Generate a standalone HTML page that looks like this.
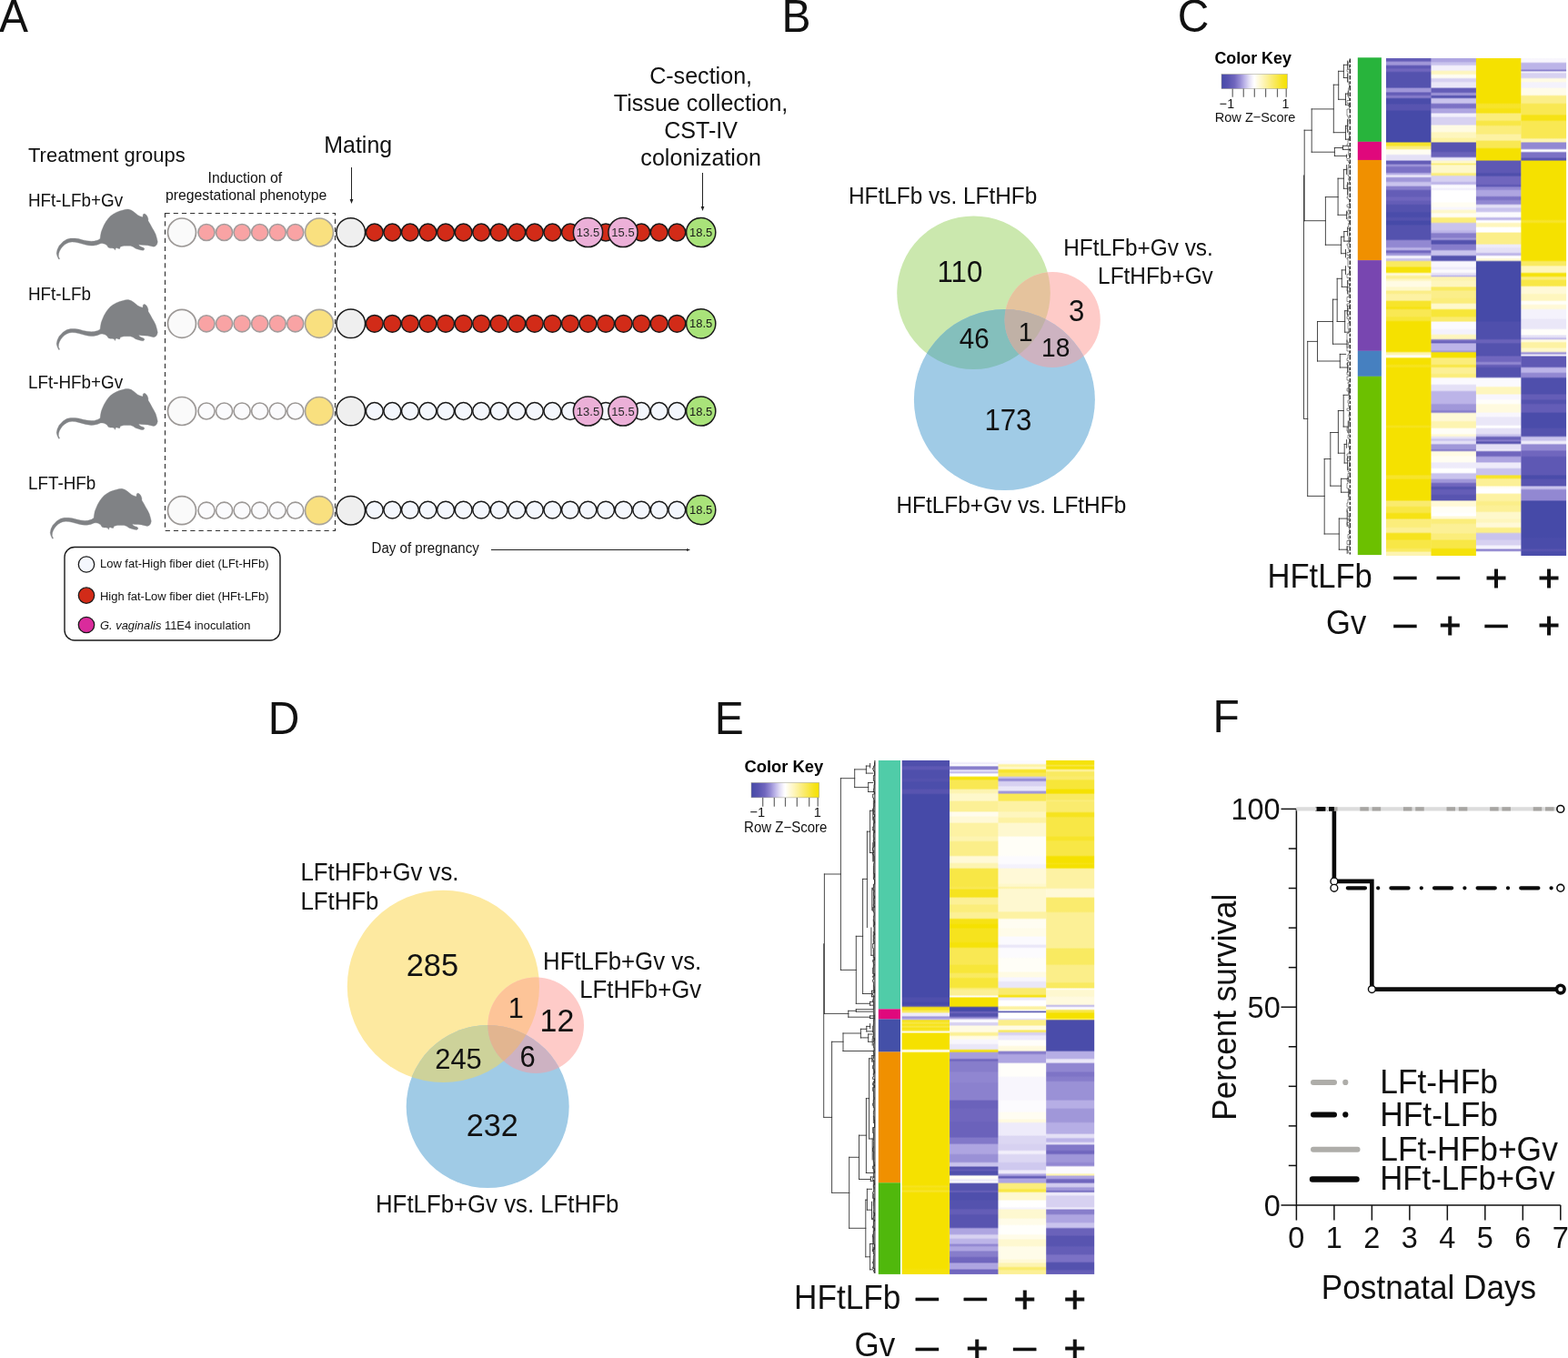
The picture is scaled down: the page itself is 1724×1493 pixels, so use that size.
<!DOCTYPE html>
<html lang="en"><head><meta charset="utf-8"><title>Figure</title>
<style>
html,body{margin:0;padding:0;background:#fff;}
body{width:1724px;height:1493px;overflow:hidden;}
svg{display:block;font-family:"Liberation Sans", sans-serif;}
</style></head><body>
<svg width="1724" height="1493" viewBox="0 0 1724 1493">
<rect width="1724" height="1493" fill="#fff"/>
<text transform="translate(-0.9 35) scale(1 1.035)" font-size="48.0" fill="#111">A</text>
<text transform="translate(31 178) scale(1 1.045)" font-size="22.0" fill="#111">Treatment groups</text>
<text transform="translate(393.7 168) scale(1 1.045)" font-size="24.95" text-anchor="middle" fill="#111">Mating</text>
<text transform="translate(770.6 92.3) scale(1 1.045)" font-size="25.1" text-anchor="middle" fill="#111">C-section,</text>
<text transform="translate(770.6 122.3) scale(1 1.045)" font-size="25.1" text-anchor="middle" fill="#111">Tissue collection,</text>
<text transform="translate(770.6 152.3) scale(1 1.045)" font-size="25.1" text-anchor="middle" fill="#111">CST-IV</text>
<text transform="translate(770.6 182.3) scale(1 1.045)" font-size="25.1" text-anchor="middle" fill="#111">colonization</text>
<text transform="translate(269.3 201) scale(1 1.045)" font-size="15.8" text-anchor="middle" fill="#111">Induction of</text>
<text transform="translate(270.6 220) scale(1 1.045)" font-size="15.8" text-anchor="middle" fill="#111">pregestational phenotype</text>
<path d="M386.5,184 V221" stroke="#222" stroke-width="1" fill="none"/><path d="M384.6,219 L386.5,224 L388.4,219Z" fill="#222"/>
<path d="M772.5,190 V229" stroke="#222" stroke-width="1" fill="none"/><path d="M770.6,227 L772.5,232 L774.4,227Z" fill="#222"/>
<rect x="181.5" y="234.5" width="187" height="349" fill="none" stroke="#333" stroke-width="1.2" stroke-dasharray="5.2,4"/>
<text transform="translate(31 227) scale(1 1.045)" font-size="18.85" fill="#111">HFt-LFb+Gv</text>
<text transform="translate(31 330) scale(1 1.045)" font-size="18.85" fill="#111">HFt-LFb</text>
<text transform="translate(31 427) scale(1 1.045)" font-size="18.85" fill="#111">LFt-HFb+Gv</text>
<text transform="translate(31 538) scale(1 1.045)" font-size="18.85" fill="#111">LFT-HFb</text>
<path d="M64.6,285.0 L63.0,281.7 L62.2,278.5 L63.0,274.4 L65.0,270.3 L69.5,265.5 L73.6,263.0 L77.6,262.1 L82.5,262.1 L86.5,262.6 L91.4,263.9 L95.5,264.7 L100.3,265.2 L103.6,265.1 L107.7,263.9 L110.1,262.4 L110.5,259.0 L111.3,254.9 L112.5,251.7 L114.3,247.6 L116.6,243.6 L119.0,240.3 L121.5,237.5 L124.7,235.3 L128.0,233.4 L131.6,232.0 L135.3,231.0 L138.1,230.2 L141.0,230.1 L144.2,231.0 L146.6,232.6 L149.1,234.6 L151.5,236.6 L153.9,237.7 L157.0,238.8 L157.2,236.2 L158.0,235.1 L159.5,235.3 L161.1,236.6 L162.2,238.5 L162.9,240.7 L162.9,242.7 L165.3,246.8 L167.3,250.5 L169.4,254.1 L171.2,257.8 L172.5,262.2 L173.3,265.9 L172.5,268.7 L171.0,270.5 L169.0,271.2 L165.7,270.5 L162.5,269.7 L158.8,269.4 L154.8,269.2 L152.5,268.7 L153.5,270.5 L155.6,271.6 L158.0,272.4 L159.0,273.8 L157.6,275.2 L155.2,275.1 L152.2,274.2 L149.1,273.2 L146.2,271.3 L143.4,270.3 L139.7,270.2 L136.1,270.3 L132.4,271.2 L131.6,273.4 L130.0,273.2 L128.4,272.6 L127.1,272.9 L126.5,275.1 L125.4,273.2 L123.5,272.8 L121.1,272.8 L119.0,272.0 L117.8,269.9 L115.9,268.6 L114.2,267.9 L112.1,267.6 L110.5,267.8 L106.8,269.2 L102.8,270.0 L100.3,270.1 L97.1,269.7 L93.9,269.1 L90.2,268.1 L86.5,267.1 L82.9,266.3 L79.2,266.0 L76.0,266.5 L73.6,267.5 L71.0,269.1 L68.7,271.2 L66.9,273.6 L65.4,276.2 L64.5,278.9 L64.3,281.7 L65.6,284.7Z" fill="#808285" stroke="#808285" stroke-width="0.35" stroke-linejoin="round"/>
<path d="M64.6,384.5 L63.0,381.2 L62.2,378.0 L63.0,373.9 L65.0,369.8 L69.5,365.0 L73.6,362.5 L77.6,361.6 L82.5,361.6 L86.5,362.1 L91.4,363.4 L95.5,364.2 L100.3,364.7 L103.6,364.6 L107.7,363.4 L110.1,361.9 L110.5,358.5 L111.3,354.4 L112.5,351.2 L114.3,347.1 L116.6,343.1 L119.0,339.8 L121.5,337.0 L124.7,334.8 L128.0,332.9 L131.6,331.5 L135.3,330.5 L138.1,329.7 L141.0,329.6 L144.2,330.5 L146.6,332.1 L149.1,334.1 L151.5,336.1 L153.9,337.2 L157.0,338.3 L157.2,335.7 L158.0,334.6 L159.5,334.8 L161.1,336.1 L162.2,338.0 L162.9,340.2 L162.9,342.2 L165.3,346.3 L167.3,350.0 L169.4,353.6 L171.2,357.3 L172.5,361.7 L173.3,365.4 L172.5,368.2 L171.0,370.0 L169.0,370.7 L165.7,370.0 L162.5,369.2 L158.8,368.9 L154.8,368.7 L152.5,368.2 L153.5,370.0 L155.6,371.1 L158.0,371.9 L159.0,373.3 L157.6,374.7 L155.2,374.6 L152.2,373.7 L149.1,372.7 L146.2,370.8 L143.4,369.8 L139.7,369.7 L136.1,369.8 L132.4,370.7 L131.6,372.9 L130.0,372.7 L128.4,372.1 L127.1,372.4 L126.5,374.6 L125.4,372.7 L123.5,372.3 L121.1,372.3 L119.0,371.5 L117.8,369.4 L115.9,368.1 L114.2,367.4 L112.1,367.1 L110.5,367.3 L106.8,368.7 L102.8,369.5 L100.3,369.6 L97.1,369.2 L93.9,368.6 L90.2,367.6 L86.5,366.6 L82.9,365.8 L79.2,365.5 L76.0,366.0 L73.6,367.0 L71.0,368.6 L68.7,370.7 L66.9,373.1 L65.4,375.7 L64.5,378.4 L64.3,381.2 L65.6,384.2Z" fill="#808285" stroke="#808285" stroke-width="0.35" stroke-linejoin="round"/>
<path d="M64.6,482.3 L63.0,479.0 L62.2,475.8 L63.0,471.7 L65.0,467.6 L69.5,462.8 L73.6,460.3 L77.6,459.4 L82.5,459.4 L86.5,459.9 L91.4,461.2 L95.5,462.0 L100.3,462.5 L103.6,462.4 L107.7,461.2 L110.1,459.7 L110.5,456.3 L111.3,452.2 L112.5,449.0 L114.3,444.9 L116.6,440.9 L119.0,437.6 L121.5,434.8 L124.7,432.6 L128.0,430.7 L131.6,429.3 L135.3,428.3 L138.1,427.5 L141.0,427.4 L144.2,428.3 L146.6,429.9 L149.1,431.9 L151.5,433.9 L153.9,435.0 L157.0,436.1 L157.2,433.5 L158.0,432.4 L159.5,432.6 L161.1,433.9 L162.2,435.8 L162.9,438.0 L162.9,440.0 L165.3,444.1 L167.3,447.8 L169.4,451.4 L171.2,455.1 L172.5,459.5 L173.3,463.2 L172.5,466.0 L171.0,467.8 L169.0,468.5 L165.7,467.8 L162.5,467.0 L158.8,466.7 L154.8,466.5 L152.5,466.0 L153.5,467.8 L155.6,468.9 L158.0,469.7 L159.0,471.1 L157.6,472.5 L155.2,472.4 L152.2,471.5 L149.1,470.5 L146.2,468.6 L143.4,467.6 L139.7,467.5 L136.1,467.6 L132.4,468.5 L131.6,470.7 L130.0,470.5 L128.4,469.9 L127.1,470.2 L126.5,472.4 L125.4,470.5 L123.5,470.1 L121.1,470.1 L119.0,469.3 L117.8,467.2 L115.9,465.9 L114.2,465.2 L112.1,464.9 L110.5,465.1 L106.8,466.5 L102.8,467.3 L100.3,467.4 L97.1,467.0 L93.9,466.4 L90.2,465.4 L86.5,464.4 L82.9,463.6 L79.2,463.3 L76.0,463.8 L73.6,464.8 L71.0,466.4 L68.7,468.5 L66.9,470.9 L65.4,473.5 L64.5,476.2 L64.3,479.0 L65.6,482.0Z" fill="#808285" stroke="#808285" stroke-width="0.35" stroke-linejoin="round"/>
<path d="M57.6,592.2 L56.0,588.9 L55.2,585.7 L56.0,581.6 L58.0,577.5 L62.5,572.7 L66.6,570.2 L70.6,569.3 L75.5,569.3 L79.5,569.8 L84.4,571.1 L88.5,571.9 L93.3,572.4 L96.6,572.3 L100.7,571.1 L103.1,569.6 L103.5,566.2 L104.3,562.1 L105.5,558.9 L107.3,554.8 L109.6,550.8 L112.0,547.5 L114.5,544.7 L117.7,542.5 L121.0,540.6 L124.6,539.2 L128.3,538.2 L131.1,537.4 L134.0,537.3 L137.2,538.2 L139.6,539.8 L142.1,541.8 L144.5,543.8 L146.9,544.9 L150.0,546.0 L150.2,543.4 L151.0,542.3 L152.5,542.5 L154.1,543.8 L155.2,545.7 L155.9,547.9 L155.9,549.9 L158.3,554.0 L160.3,557.7 L162.4,561.3 L164.2,565.0 L165.5,569.4 L166.3,573.1 L165.5,575.9 L164.0,577.7 L162.0,578.4 L158.7,577.7 L155.5,576.9 L151.8,576.6 L147.8,576.4 L145.5,575.9 L146.5,577.7 L148.6,578.8 L151.0,579.6 L152.0,581.0 L150.6,582.4 L148.2,582.3 L145.2,581.4 L142.1,580.4 L139.2,578.5 L136.4,577.5 L132.7,577.4 L129.1,577.5 L125.4,578.4 L124.6,580.6 L123.0,580.4 L121.4,579.8 L120.1,580.1 L119.5,582.3 L118.4,580.4 L116.5,580.0 L114.1,580.0 L112.0,579.2 L110.8,577.1 L108.9,575.8 L107.2,575.1 L105.1,574.8 L103.5,575.0 L99.8,576.4 L95.8,577.2 L93.3,577.3 L90.1,576.9 L86.9,576.3 L83.2,575.3 L79.5,574.3 L75.9,573.5 L72.2,573.2 L69.0,573.7 L66.6,574.7 L64.0,576.3 L61.7,578.4 L59.9,580.8 L58.4,583.4 L57.5,586.1 L57.3,588.9 L58.6,591.9Z" fill="#808285" stroke="#808285" stroke-width="0.35" stroke-linejoin="round"/>
<circle cx="200.00" cy="255.50" r="15.5" fill="#fafafa" stroke="#9c9896" stroke-width="1.7"/>
<circle cx="227.00" cy="255.50" r="9.05" fill="#f9a3a4" stroke="#a39c9c" stroke-width="1.6"/>
<circle cx="246.55" cy="255.50" r="9.05" fill="#f9a3a4" stroke="#a39c9c" stroke-width="1.6"/>
<circle cx="266.10" cy="255.50" r="9.05" fill="#f9a3a4" stroke="#a39c9c" stroke-width="1.6"/>
<circle cx="285.65" cy="255.50" r="9.05" fill="#f9a3a4" stroke="#a39c9c" stroke-width="1.6"/>
<circle cx="305.20" cy="255.50" r="9.05" fill="#f9a3a4" stroke="#a39c9c" stroke-width="1.6"/>
<circle cx="324.75" cy="255.50" r="9.05" fill="#f9a3a4" stroke="#a39c9c" stroke-width="1.6"/>
<circle cx="351.00" cy="255.50" r="15.5" fill="#f9e07f" stroke="#a8a49c" stroke-width="1.7"/>
<circle cx="385.70" cy="255.50" r="15.8" fill="#efefef" stroke="#1a1a1a" stroke-width="1.5"/>
<circle cx="411.80" cy="255.50" r="9.4" fill="#d22b18" stroke="#1a1a1a" stroke-width="1.5"/>
<circle cx="431.36" cy="255.50" r="9.4" fill="#d22b18" stroke="#1a1a1a" stroke-width="1.5"/>
<circle cx="450.92" cy="255.50" r="9.4" fill="#d22b18" stroke="#1a1a1a" stroke-width="1.5"/>
<circle cx="470.48" cy="255.50" r="9.4" fill="#d22b18" stroke="#1a1a1a" stroke-width="1.5"/>
<circle cx="490.04" cy="255.50" r="9.4" fill="#d22b18" stroke="#1a1a1a" stroke-width="1.5"/>
<circle cx="509.60" cy="255.50" r="9.4" fill="#d22b18" stroke="#1a1a1a" stroke-width="1.5"/>
<circle cx="529.16" cy="255.50" r="9.4" fill="#d22b18" stroke="#1a1a1a" stroke-width="1.5"/>
<circle cx="548.72" cy="255.50" r="9.4" fill="#d22b18" stroke="#1a1a1a" stroke-width="1.5"/>
<circle cx="568.28" cy="255.50" r="9.4" fill="#d22b18" stroke="#1a1a1a" stroke-width="1.5"/>
<circle cx="587.84" cy="255.50" r="9.4" fill="#d22b18" stroke="#1a1a1a" stroke-width="1.5"/>
<circle cx="607.40" cy="255.50" r="9.4" fill="#d22b18" stroke="#1a1a1a" stroke-width="1.5"/>
<circle cx="626.96" cy="255.50" r="9.4" fill="#d22b18" stroke="#1a1a1a" stroke-width="1.5"/>
<circle cx="646.52" cy="255.50" r="9.4" fill="#d22b18" stroke="#1a1a1a" stroke-width="1.5"/>
<circle cx="666.08" cy="255.50" r="9.4" fill="#d22b18" stroke="#1a1a1a" stroke-width="1.5"/>
<circle cx="685.64" cy="255.50" r="9.4" fill="#d22b18" stroke="#1a1a1a" stroke-width="1.5"/>
<circle cx="705.20" cy="255.50" r="9.4" fill="#d22b18" stroke="#1a1a1a" stroke-width="1.5"/>
<circle cx="724.76" cy="255.50" r="9.4" fill="#d22b18" stroke="#1a1a1a" stroke-width="1.5"/>
<circle cx="744.32" cy="255.50" r="9.4" fill="#d22b18" stroke="#1a1a1a" stroke-width="1.5"/>
<circle cx="646.50" cy="255.50" r="16.1" fill="#ecb0d8" stroke="#1a1a1a" stroke-width="1.5"/>
<text transform="translate(646.5 260.1) scale(1 1.045)" font-size="13.0" text-anchor="middle" fill="#2a2a2a">13.5</text>
<circle cx="685.00" cy="255.50" r="16.1" fill="#ecb0d8" stroke="#1a1a1a" stroke-width="1.5"/>
<text transform="translate(685 260.1) scale(1 1.045)" font-size="13.0" text-anchor="middle" fill="#2a2a2a">15.5</text>
<circle cx="770.70" cy="255.50" r="16.1" fill="#a9e37a" stroke="#1a1a1a" stroke-width="1.5"/>
<text transform="translate(770.7 260.1) scale(1 1.045)" font-size="13.0" text-anchor="middle" fill="#1a1a1a">18.5</text>
<circle cx="200.00" cy="355.80" r="15.5" fill="#fafafa" stroke="#9c9896" stroke-width="1.7"/>
<circle cx="227.00" cy="355.80" r="9.05" fill="#f9a3a4" stroke="#a39c9c" stroke-width="1.6"/>
<circle cx="246.55" cy="355.80" r="9.05" fill="#f9a3a4" stroke="#a39c9c" stroke-width="1.6"/>
<circle cx="266.10" cy="355.80" r="9.05" fill="#f9a3a4" stroke="#a39c9c" stroke-width="1.6"/>
<circle cx="285.65" cy="355.80" r="9.05" fill="#f9a3a4" stroke="#a39c9c" stroke-width="1.6"/>
<circle cx="305.20" cy="355.80" r="9.05" fill="#f9a3a4" stroke="#a39c9c" stroke-width="1.6"/>
<circle cx="324.75" cy="355.80" r="9.05" fill="#f9a3a4" stroke="#a39c9c" stroke-width="1.6"/>
<circle cx="351.00" cy="355.80" r="15.5" fill="#f9e07f" stroke="#a8a49c" stroke-width="1.7"/>
<circle cx="385.70" cy="355.80" r="15.8" fill="#efefef" stroke="#1a1a1a" stroke-width="1.5"/>
<circle cx="411.80" cy="355.80" r="9.4" fill="#d22b18" stroke="#1a1a1a" stroke-width="1.5"/>
<circle cx="431.36" cy="355.80" r="9.4" fill="#d22b18" stroke="#1a1a1a" stroke-width="1.5"/>
<circle cx="450.92" cy="355.80" r="9.4" fill="#d22b18" stroke="#1a1a1a" stroke-width="1.5"/>
<circle cx="470.48" cy="355.80" r="9.4" fill="#d22b18" stroke="#1a1a1a" stroke-width="1.5"/>
<circle cx="490.04" cy="355.80" r="9.4" fill="#d22b18" stroke="#1a1a1a" stroke-width="1.5"/>
<circle cx="509.60" cy="355.80" r="9.4" fill="#d22b18" stroke="#1a1a1a" stroke-width="1.5"/>
<circle cx="529.16" cy="355.80" r="9.4" fill="#d22b18" stroke="#1a1a1a" stroke-width="1.5"/>
<circle cx="548.72" cy="355.80" r="9.4" fill="#d22b18" stroke="#1a1a1a" stroke-width="1.5"/>
<circle cx="568.28" cy="355.80" r="9.4" fill="#d22b18" stroke="#1a1a1a" stroke-width="1.5"/>
<circle cx="587.84" cy="355.80" r="9.4" fill="#d22b18" stroke="#1a1a1a" stroke-width="1.5"/>
<circle cx="607.40" cy="355.80" r="9.4" fill="#d22b18" stroke="#1a1a1a" stroke-width="1.5"/>
<circle cx="626.96" cy="355.80" r="9.4" fill="#d22b18" stroke="#1a1a1a" stroke-width="1.5"/>
<circle cx="646.52" cy="355.80" r="9.4" fill="#d22b18" stroke="#1a1a1a" stroke-width="1.5"/>
<circle cx="666.08" cy="355.80" r="9.4" fill="#d22b18" stroke="#1a1a1a" stroke-width="1.5"/>
<circle cx="685.64" cy="355.80" r="9.4" fill="#d22b18" stroke="#1a1a1a" stroke-width="1.5"/>
<circle cx="705.20" cy="355.80" r="9.4" fill="#d22b18" stroke="#1a1a1a" stroke-width="1.5"/>
<circle cx="724.76" cy="355.80" r="9.4" fill="#d22b18" stroke="#1a1a1a" stroke-width="1.5"/>
<circle cx="744.32" cy="355.80" r="9.4" fill="#d22b18" stroke="#1a1a1a" stroke-width="1.5"/>
<circle cx="770.70" cy="355.80" r="16.1" fill="#a9e37a" stroke="#1a1a1a" stroke-width="1.5"/>
<text transform="translate(770.7 360.4) scale(1 1.045)" font-size="13.0" text-anchor="middle" fill="#1a1a1a">18.5</text>
<circle cx="200.00" cy="452.00" r="15.5" fill="#fafafa" stroke="#9c9896" stroke-width="1.7"/>
<circle cx="227.00" cy="452.00" r="9.05" fill="#fbfbfd" stroke="#9c9896" stroke-width="1.6"/>
<circle cx="246.55" cy="452.00" r="9.05" fill="#fbfbfd" stroke="#9c9896" stroke-width="1.6"/>
<circle cx="266.10" cy="452.00" r="9.05" fill="#fbfbfd" stroke="#9c9896" stroke-width="1.6"/>
<circle cx="285.65" cy="452.00" r="9.05" fill="#fbfbfd" stroke="#9c9896" stroke-width="1.6"/>
<circle cx="305.20" cy="452.00" r="9.05" fill="#fbfbfd" stroke="#9c9896" stroke-width="1.6"/>
<circle cx="324.75" cy="452.00" r="9.05" fill="#fbfbfd" stroke="#9c9896" stroke-width="1.6"/>
<circle cx="351.00" cy="452.00" r="15.5" fill="#f9e07f" stroke="#a8a49c" stroke-width="1.7"/>
<circle cx="385.70" cy="452.00" r="15.8" fill="#efefef" stroke="#1a1a1a" stroke-width="1.5"/>
<circle cx="411.80" cy="452.00" r="9.4" fill="#f4f7fd" stroke="#1a1a1a" stroke-width="1.5"/>
<circle cx="431.36" cy="452.00" r="9.4" fill="#f4f7fd" stroke="#1a1a1a" stroke-width="1.5"/>
<circle cx="450.92" cy="452.00" r="9.4" fill="#f4f7fd" stroke="#1a1a1a" stroke-width="1.5"/>
<circle cx="470.48" cy="452.00" r="9.4" fill="#f4f7fd" stroke="#1a1a1a" stroke-width="1.5"/>
<circle cx="490.04" cy="452.00" r="9.4" fill="#f4f7fd" stroke="#1a1a1a" stroke-width="1.5"/>
<circle cx="509.60" cy="452.00" r="9.4" fill="#f4f7fd" stroke="#1a1a1a" stroke-width="1.5"/>
<circle cx="529.16" cy="452.00" r="9.4" fill="#f4f7fd" stroke="#1a1a1a" stroke-width="1.5"/>
<circle cx="548.72" cy="452.00" r="9.4" fill="#f4f7fd" stroke="#1a1a1a" stroke-width="1.5"/>
<circle cx="568.28" cy="452.00" r="9.4" fill="#f4f7fd" stroke="#1a1a1a" stroke-width="1.5"/>
<circle cx="587.84" cy="452.00" r="9.4" fill="#f4f7fd" stroke="#1a1a1a" stroke-width="1.5"/>
<circle cx="607.40" cy="452.00" r="9.4" fill="#f4f7fd" stroke="#1a1a1a" stroke-width="1.5"/>
<circle cx="626.96" cy="452.00" r="9.4" fill="#f4f7fd" stroke="#1a1a1a" stroke-width="1.5"/>
<circle cx="646.52" cy="452.00" r="9.4" fill="#f4f7fd" stroke="#1a1a1a" stroke-width="1.5"/>
<circle cx="666.08" cy="452.00" r="9.4" fill="#f4f7fd" stroke="#1a1a1a" stroke-width="1.5"/>
<circle cx="685.64" cy="452.00" r="9.4" fill="#f4f7fd" stroke="#1a1a1a" stroke-width="1.5"/>
<circle cx="705.20" cy="452.00" r="9.4" fill="#f4f7fd" stroke="#1a1a1a" stroke-width="1.5"/>
<circle cx="724.76" cy="452.00" r="9.4" fill="#f4f7fd" stroke="#1a1a1a" stroke-width="1.5"/>
<circle cx="744.32" cy="452.00" r="9.4" fill="#f4f7fd" stroke="#1a1a1a" stroke-width="1.5"/>
<circle cx="646.50" cy="452.00" r="16.1" fill="#ecb0d8" stroke="#1a1a1a" stroke-width="1.5"/>
<text transform="translate(646.5 456.6) scale(1 1.045)" font-size="13.0" text-anchor="middle" fill="#2a2a2a">13.5</text>
<circle cx="685.00" cy="452.00" r="16.1" fill="#ecb0d8" stroke="#1a1a1a" stroke-width="1.5"/>
<text transform="translate(685 456.6) scale(1 1.045)" font-size="13.0" text-anchor="middle" fill="#2a2a2a">15.5</text>
<circle cx="770.70" cy="452.00" r="16.1" fill="#a9e37a" stroke="#1a1a1a" stroke-width="1.5"/>
<text transform="translate(770.7 456.6) scale(1 1.045)" font-size="13.0" text-anchor="middle" fill="#1a1a1a">18.5</text>
<circle cx="200.00" cy="561.20" r="15.5" fill="#fafafa" stroke="#9c9896" stroke-width="1.7"/>
<circle cx="227.00" cy="561.20" r="9.05" fill="#fbfbfd" stroke="#9c9896" stroke-width="1.6"/>
<circle cx="246.55" cy="561.20" r="9.05" fill="#fbfbfd" stroke="#9c9896" stroke-width="1.6"/>
<circle cx="266.10" cy="561.20" r="9.05" fill="#fbfbfd" stroke="#9c9896" stroke-width="1.6"/>
<circle cx="285.65" cy="561.20" r="9.05" fill="#fbfbfd" stroke="#9c9896" stroke-width="1.6"/>
<circle cx="305.20" cy="561.20" r="9.05" fill="#fbfbfd" stroke="#9c9896" stroke-width="1.6"/>
<circle cx="324.75" cy="561.20" r="9.05" fill="#fbfbfd" stroke="#9c9896" stroke-width="1.6"/>
<circle cx="351.00" cy="561.20" r="15.5" fill="#f9e07f" stroke="#a8a49c" stroke-width="1.7"/>
<circle cx="385.70" cy="561.20" r="15.8" fill="#efefef" stroke="#1a1a1a" stroke-width="1.5"/>
<circle cx="411.80" cy="560.60" r="9.4" fill="#f4f7fd" stroke="#1a1a1a" stroke-width="1.5"/>
<circle cx="431.36" cy="560.60" r="9.4" fill="#f4f7fd" stroke="#1a1a1a" stroke-width="1.5"/>
<circle cx="450.92" cy="560.60" r="9.4" fill="#f4f7fd" stroke="#1a1a1a" stroke-width="1.5"/>
<circle cx="470.48" cy="560.60" r="9.4" fill="#f4f7fd" stroke="#1a1a1a" stroke-width="1.5"/>
<circle cx="490.04" cy="560.60" r="9.4" fill="#f4f7fd" stroke="#1a1a1a" stroke-width="1.5"/>
<circle cx="509.60" cy="560.60" r="9.4" fill="#f4f7fd" stroke="#1a1a1a" stroke-width="1.5"/>
<circle cx="529.16" cy="560.60" r="9.4" fill="#f4f7fd" stroke="#1a1a1a" stroke-width="1.5"/>
<circle cx="548.72" cy="560.60" r="9.4" fill="#f4f7fd" stroke="#1a1a1a" stroke-width="1.5"/>
<circle cx="568.28" cy="560.60" r="9.4" fill="#f4f7fd" stroke="#1a1a1a" stroke-width="1.5"/>
<circle cx="587.84" cy="560.60" r="9.4" fill="#f4f7fd" stroke="#1a1a1a" stroke-width="1.5"/>
<circle cx="607.40" cy="560.60" r="9.4" fill="#f4f7fd" stroke="#1a1a1a" stroke-width="1.5"/>
<circle cx="626.96" cy="560.60" r="9.4" fill="#f4f7fd" stroke="#1a1a1a" stroke-width="1.5"/>
<circle cx="646.52" cy="560.60" r="9.4" fill="#f4f7fd" stroke="#1a1a1a" stroke-width="1.5"/>
<circle cx="666.08" cy="560.60" r="9.4" fill="#f4f7fd" stroke="#1a1a1a" stroke-width="1.5"/>
<circle cx="685.64" cy="560.60" r="9.4" fill="#f4f7fd" stroke="#1a1a1a" stroke-width="1.5"/>
<circle cx="705.20" cy="560.60" r="9.4" fill="#f4f7fd" stroke="#1a1a1a" stroke-width="1.5"/>
<circle cx="724.76" cy="560.60" r="9.4" fill="#f4f7fd" stroke="#1a1a1a" stroke-width="1.5"/>
<circle cx="744.32" cy="560.60" r="9.4" fill="#f4f7fd" stroke="#1a1a1a" stroke-width="1.5"/>
<circle cx="770.70" cy="560.60" r="16.1" fill="#a9e37a" stroke="#1a1a1a" stroke-width="1.5"/>
<text transform="translate(770.7 565.2) scale(1 1.045)" font-size="13.0" text-anchor="middle" fill="#1a1a1a">18.5</text>
<text transform="translate(408.5 608) scale(1 1.045)" font-size="15.1" fill="#111">Day of pregnancy</text>
<path d="M540,604.5 H756" stroke="#222" stroke-width="1" fill="none"/><path d="M755,603 L759,604.5 L755,606Z" fill="#222"/>
<rect x="71" y="601.5" width="237" height="102.5" rx="11" ry="11" fill="#fff" stroke="#1a1a1a" stroke-width="1.4"/>
<circle cx="95.00" cy="620.50" r="8.7" fill="#f4f7fd" stroke="#1a1a1a" stroke-width="1.3"/>
<circle cx="95.00" cy="654.60" r="8.7" fill="#d22b18" stroke="#1a1a1a" stroke-width="1.3"/>
<circle cx="95.00" cy="687.00" r="8.7" fill="#da2b9c" stroke="#1a1a1a" stroke-width="1.3"/>
<text transform="translate(110 623.8) scale(1 1.045)" font-size="12.95" fill="#111">Low fat-High fiber diet (LFt-HFb)</text>
<text transform="translate(110 660.1) scale(1 1.045)" font-size="12.95" fill="#111">High fat-Low fiber diet (HFt-LFb)</text>
<text transform="translate(110 692) scale(1 1.045)" font-size="12.9" fill="#111"><tspan font-style="italic">G. vaginalis</tspan> 11E4 inoculation</text>
<text transform="translate(859.5 35) scale(1 1.035)" font-size="48.0" fill="#111">B</text>
<defs><clipPath id="v1a"><circle cx="1070.5" cy="321.7" r="84.3" /></clipPath><clipPath id="v1b"><circle cx="1157.2" cy="351.5" r="52.6" /></clipPath><clipPath id="v1c"><circle cx="1104.4" cy="439.6" r="99.5" /></clipPath></defs>
<circle cx="1070.5" cy="321.7" r="84.3" fill="#cbe8ae"/>
<circle cx="1157.2" cy="351.5" r="52.6" fill="#fecbc8"/>
<circle cx="1104.4" cy="439.6" r="99.5" fill="#a0cbe6"/>
<g clip-path="url(#v1a)"><circle cx="1157.2" cy="351.5" r="52.6" fill="#e5c39d"/><circle cx="1104.4" cy="439.6" r="99.5" fill="#84bfbc"/></g>
<g clip-path="url(#v1b)"><circle cx="1104.4" cy="439.6" r="99.5" fill="#cdb3c1"/></g>
<g clip-path="url(#v1a)"><g clip-path="url(#v1b)"><circle cx="1104.4" cy="439.6" r="99.5" fill="#c0b1a6"/></g></g>
<text transform="translate(933.0 224) scale(1 1.045)" font-size="24.4" fill="#111">HFtLFb vs. LFtHFb</text>
<text transform="translate(1333.8 281.4) scale(1 1.045)" font-size="24.4" text-anchor="end" fill="#111">HFtLFb+Gv vs.</text>
<text transform="translate(1333.8 311.5) scale(1 1.045)" font-size="24.4" text-anchor="end" fill="#111">LFtHFb+Gv</text>
<text transform="translate(1055.4 309.5) scale(1 1.045)" font-size="31.2" text-anchor="middle" fill="#111">110</text>
<text transform="translate(1183.6 352.5) scale(1 1.045)" font-size="31.2" text-anchor="middle" fill="#111">3</text>
<text transform="translate(1071.2 383.1) scale(1 1.045)" font-size="29.6" text-anchor="middle" fill="#111">46</text>
<text transform="translate(1127.6 374.8) scale(1 1.045)" font-size="28.4" text-anchor="middle" fill="#111">1</text>
<text transform="translate(1160.7 392.0) scale(1 1.045)" font-size="28.2" text-anchor="middle" fill="#111">18</text>
<text transform="translate(1108.4 473) scale(1 1.045)" font-size="31.2" text-anchor="middle" fill="#111">173</text>
<text transform="translate(985.5 564) scale(1 1.045)" font-size="24.4" fill="#111">HFtLFb+Gv vs. LFtHFb</text>
<text transform="translate(1294.8 35.3) scale(1 1.035)" font-size="48.0" fill="#111">C</text>
<defs><linearGradient id="ckC" x1="0" x2="1" y1="0" y2="0"><stop offset="0.000" stop-color="#464aa8"/><stop offset="0.100" stop-color="#5854b0"/><stop offset="0.200" stop-color="#7066be"/><stop offset="0.275" stop-color="#9288d2"/><stop offset="0.350" stop-color="#bcb4e8"/><stop offset="0.425" stop-color="#e4e0f6"/><stop offset="0.475" stop-color="#f8f6fd"/><stop offset="0.500" stop-color="#ffffff"/><stop offset="0.550" stop-color="#fffbe4"/><stop offset="0.625" stop-color="#fef6be"/><stop offset="0.700" stop-color="#fcf096"/><stop offset="0.775" stop-color="#faeb6e"/><stop offset="0.850" stop-color="#f8e746"/><stop offset="0.925" stop-color="#f6e31e"/><stop offset="1.000" stop-color="#f5e100"/></linearGradient></defs>
<rect x="1343" y="81.6" width="72.29999999999995" height="16.0" fill="url(#ckC)" stroke="#9a9a8a" stroke-width="0.5"/>
<path d="M1355.2,97.6V106.7M1367.25,97.6V106.7M1379.3,97.6V106.7M1391.6,97.6V106.7M1404.5,97.6V106.7M1414.2,97.6V106.7" stroke="#666" stroke-width="1.2" fill="none"/>
<text transform="translate(1335.4 69.9) scale(1 1.045)" font-size="17.9" font-weight="bold" fill="#000">Color Key</text>
<text transform="translate(1349 119) scale(1 1.045)" font-size="14.3" text-anchor="middle" fill="#111">−1</text>
<text transform="translate(1413.5 119) scale(1 1.045)" font-size="14.3" text-anchor="middle" fill="#111">1</text>
<text transform="translate(1335.7 134.4) scale(1 1.045)" font-size="14.6" fill="#111">Row Z−Score</text>
<rect x="1492.8" y="63.3" width="26.1" height="92.60" fill="#28b43c"/>
<rect x="1492.8" y="155.8" width="26.1" height="20.20" fill="#e0087c"/>
<rect x="1492.8" y="175.9" width="26.1" height="110.30" fill="#f09000"/>
<rect x="1492.8" y="286.1" width="26.1" height="99.80" fill="#7846b0"/>
<rect x="1492.8" y="385.8" width="26.1" height="28.10" fill="#4680c0"/>
<rect x="1492.8" y="413.8" width="26.1" height="196.30" fill="#6cc000"/>
<linearGradient id="hg1" gradientUnits="userSpaceOnUse" x1="0" y1="64.02" x2="0" y2="610.99"><stop offset="0.00000" stop-color="#645db7"/><stop offset="0.00506" stop-color="#645db7"/><stop offset="0.00835" stop-color="#a097d9"/><stop offset="0.01263" stop-color="#a097d9"/><stop offset="0.01592" stop-color="#5e58b4"/><stop offset="0.01912" stop-color="#5e58b4"/><stop offset="0.02241" stop-color="#7066be"/><stop offset="0.02561" stop-color="#7066be"/><stop offset="0.02890" stop-color="#5452ae"/><stop offset="0.05806" stop-color="#5452ae"/><stop offset="0.06135" stop-color="#a097d9"/><stop offset="0.06672" stop-color="#a097d9"/><stop offset="0.07001" stop-color="#645db7"/><stop offset="0.07321" stop-color="#645db7"/><stop offset="0.07650" stop-color="#877dcb"/><stop offset="0.07862" stop-color="#877dcb"/><stop offset="0.08191" stop-color="#4a4caa"/><stop offset="0.09051" stop-color="#4a4caa"/><stop offset="0.09380" stop-color="#5854b0"/><stop offset="0.10349" stop-color="#5854b0"/><stop offset="0.10679" stop-color="#464aa8"/><stop offset="0.16731" stop-color="#464aa8"/><stop offset="0.17060" stop-color="#f7e42b"/><stop offset="0.17489" stop-color="#f7e42b"/><stop offset="0.17818" stop-color="#fbed7b"/><stop offset="0.18138" stop-color="#fbed7b"/><stop offset="0.18467" stop-color="#fffdf2"/><stop offset="0.19219" stop-color="#fffdf2"/><stop offset="0.19548" stop-color="#e4e0f6"/><stop offset="0.20409" stop-color="#e4e0f6"/><stop offset="0.20738" stop-color="#645db7"/><stop offset="0.21166" stop-color="#645db7"/><stop offset="0.21495" stop-color="#a097d9"/><stop offset="0.21599" stop-color="#a097d9"/><stop offset="0.21928" stop-color="#7b71c5"/><stop offset="0.22897" stop-color="#7b71c5"/><stop offset="0.23226" stop-color="#bcb4e8"/><stop offset="0.23330" stop-color="#bcb4e8"/><stop offset="0.23659" stop-color="#eeebfa"/><stop offset="0.23762" stop-color="#eeebfa"/><stop offset="0.24091" stop-color="#a097d9"/><stop offset="0.24693" stop-color="#a097d9"/><stop offset="0.25025" stop-color="#c9c3ed"/><stop offset="0.25561" stop-color="#c9c3ed"/><stop offset="0.25890" stop-color="#877dcb"/><stop offset="0.26318" stop-color="#877dcb"/><stop offset="0.26647" stop-color="#645db7"/><stop offset="0.27724" stop-color="#645db7"/><stop offset="0.28053" stop-color="#7066be"/><stop offset="0.28481" stop-color="#7066be"/><stop offset="0.28811" stop-color="#645db7"/><stop offset="0.29239" stop-color="#645db7"/><stop offset="0.29568" stop-color="#5452ae"/><stop offset="0.30753" stop-color="#5452ae"/><stop offset="0.31082" stop-color="#4a4caa"/><stop offset="0.31835" stop-color="#4a4caa"/><stop offset="0.32164" stop-color="#5452ae"/><stop offset="0.32484" stop-color="#5452ae"/><stop offset="0.32813" stop-color="#464aa8"/><stop offset="0.33349" stop-color="#464aa8"/><stop offset="0.33678" stop-color="#5452ae"/><stop offset="0.36378" stop-color="#5452ae"/><stop offset="0.36707" stop-color="#9288d2"/><stop offset="0.37892" stop-color="#9288d2"/><stop offset="0.38221" stop-color="#bcb4e8"/><stop offset="0.38433" stop-color="#bcb4e8"/><stop offset="0.38762" stop-color="#7066be"/><stop offset="0.38974" stop-color="#7066be"/><stop offset="0.39303" stop-color="#a097d9"/><stop offset="0.39515" stop-color="#a097d9"/><stop offset="0.39844" stop-color="#f8f6fd"/><stop offset="0.40056" stop-color="#f8f6fd"/><stop offset="0.40385" stop-color="#c9c3ed"/><stop offset="0.40596" stop-color="#c9c3ed"/><stop offset="0.40925" stop-color="#f9ea61"/><stop offset="0.41786" stop-color="#f9ea61"/><stop offset="0.42115" stop-color="#f5e20a"/><stop offset="0.42976" stop-color="#f5e20a"/><stop offset="0.43305" stop-color="#fff9d7"/><stop offset="0.43517" stop-color="#fff9d7"/><stop offset="0.43846" stop-color="#fcf096"/><stop offset="0.44166" stop-color="#fcf096"/><stop offset="0.44495" stop-color="#fef6be"/><stop offset="0.44599" stop-color="#fef6be"/><stop offset="0.44928" stop-color="#fffbe4"/><stop offset="0.45788" stop-color="#fffbe4"/><stop offset="0.46118" stop-color="#fef8cb"/><stop offset="0.46546" stop-color="#fef8cb"/><stop offset="0.46875" stop-color="#fbee89"/><stop offset="0.47195" stop-color="#fbee89"/><stop offset="0.47524" stop-color="#fdf2a3"/><stop offset="0.48601" stop-color="#fdf2a3"/><stop offset="0.48930" stop-color="#f7e42b"/><stop offset="0.49791" stop-color="#f7e42b"/><stop offset="0.50120" stop-color="#f6e214"/><stop offset="0.50288" stop-color="#f6e214"/><stop offset="0.50620" stop-color="#f9e853"/><stop offset="0.51806" stop-color="#f9e853"/><stop offset="0.52135" stop-color="#f7e639"/><stop offset="0.52671" stop-color="#f7e639"/><stop offset="0.53000" stop-color="#f5e100"/><stop offset="0.58901" stop-color="#f5e100"/><stop offset="0.59231" stop-color="#fdf4b1"/><stop offset="0.59486" stop-color="#fdf4b1"/><stop offset="0.59815" stop-color="#fffef7"/><stop offset="0.60026" stop-color="#fffef7"/><stop offset="0.60356" stop-color="#f5e100"/><stop offset="0.61433" stop-color="#f5e100"/><stop offset="0.61762" stop-color="#f6e31e"/><stop offset="0.61973" stop-color="#f6e31e"/><stop offset="0.62303" stop-color="#f5e100"/><stop offset="0.73656" stop-color="#f5e100"/><stop offset="0.73985" stop-color="#f6e31e"/><stop offset="0.74088" stop-color="#f6e31e"/><stop offset="0.74417" stop-color="#f5e100"/><stop offset="0.83632" stop-color="#f5e100"/><stop offset="0.83961" stop-color="#f7e42b"/><stop offset="0.84432" stop-color="#f7e42b"/><stop offset="0.84761" stop-color="#f5e100"/><stop offset="0.88759" stop-color="#f5e100"/><stop offset="0.89088" stop-color="#faeb6e"/><stop offset="0.89949" stop-color="#faeb6e"/><stop offset="0.90278" stop-color="#f8e746"/><stop offset="0.91247" stop-color="#f8e746"/><stop offset="0.91576" stop-color="#f6e214"/><stop offset="0.92437" stop-color="#f6e214"/><stop offset="0.92766" stop-color="#fbed7b"/><stop offset="0.94167" stop-color="#fbed7b"/><stop offset="0.94497" stop-color="#fcf096"/><stop offset="0.95249" stop-color="#fcf096"/><stop offset="0.95578" stop-color="#f6e31e"/><stop offset="0.96655" stop-color="#f6e31e"/><stop offset="0.96984" stop-color="#f8e746"/><stop offset="0.98386" stop-color="#f8e746"/><stop offset="0.98715" stop-color="#f9ea61"/><stop offset="0.99035" stop-color="#f9ea61"/><stop offset="0.99364" stop-color="#fdf4b1"/><stop offset="1.00000" stop-color="#fdf4b1"/></linearGradient>
<rect x="1524.00" y="64.02" width="49.90" height="546.97" fill="url(#hg1)"/>
<linearGradient id="hg2" gradientUnits="userSpaceOnUse" x1="0" y1="64.02" x2="0" y2="610.99"><stop offset="0.00000" stop-color="#aea5e1"/><stop offset="0.00614" stop-color="#aea5e1"/><stop offset="0.00943" stop-color="#c9c3ed"/><stop offset="0.01263" stop-color="#c9c3ed"/><stop offset="0.01592" stop-color="#f2effb"/><stop offset="0.02345" stop-color="#f2effb"/><stop offset="0.02674" stop-color="#fef6be"/><stop offset="0.03102" stop-color="#fef6be"/><stop offset="0.03431" stop-color="#fffdf2"/><stop offset="0.03859" stop-color="#fffdf2"/><stop offset="0.04188" stop-color="#d7d1f1"/><stop offset="0.04617" stop-color="#d7d1f1"/><stop offset="0.04946" stop-color="#eae7f8"/><stop offset="0.05806" stop-color="#eae7f8"/><stop offset="0.06135" stop-color="#645db7"/><stop offset="0.06780" stop-color="#645db7"/><stop offset="0.07109" stop-color="#a097d9"/><stop offset="0.07321" stop-color="#a097d9"/><stop offset="0.07650" stop-color="#5452ae"/><stop offset="0.07862" stop-color="#5452ae"/><stop offset="0.08191" stop-color="#c9c3ed"/><stop offset="0.08943" stop-color="#c9c3ed"/><stop offset="0.09272" stop-color="#7b71c5"/><stop offset="0.09917" stop-color="#7b71c5"/><stop offset="0.10246" stop-color="#aea5e1"/><stop offset="0.10890" stop-color="#aea5e1"/><stop offset="0.11219" stop-color="#f2effb"/><stop offset="0.11647" stop-color="#f2effb"/><stop offset="0.11977" stop-color="#d7d1f1"/><stop offset="0.13270" stop-color="#d7d1f1"/><stop offset="0.13599" stop-color="#fffbe4"/><stop offset="0.14676" stop-color="#fffbe4"/><stop offset="0.15005" stop-color="#fef6be"/><stop offset="0.15866" stop-color="#fef6be"/><stop offset="0.16195" stop-color="#fdf2a3"/><stop offset="0.16731" stop-color="#fdf2a3"/><stop offset="0.17060" stop-color="#5854b0"/><stop offset="0.18678" stop-color="#5854b0"/><stop offset="0.19007" stop-color="#6a62ba"/><stop offset="0.19760" stop-color="#6a62ba"/><stop offset="0.20089" stop-color="#eeebfa"/><stop offset="0.20409" stop-color="#eeebfa"/><stop offset="0.20738" stop-color="#fef8cb"/><stop offset="0.20950" stop-color="#fef8cb"/><stop offset="0.21277" stop-color="#fbed7b"/><stop offset="0.21604" stop-color="#fef8cb"/><stop offset="0.22897" stop-color="#fef8cb"/><stop offset="0.23226" stop-color="#fbed7b"/><stop offset="0.23438" stop-color="#fbed7b"/><stop offset="0.23767" stop-color="#d7d1f1"/><stop offset="0.24693" stop-color="#d7d1f1"/><stop offset="0.25025" stop-color="#bcb4e8"/><stop offset="0.25236" stop-color="#bcb4e8"/><stop offset="0.25566" stop-color="#fbfafe"/><stop offset="0.25994" stop-color="#fbfafe"/><stop offset="0.26320" stop-color="#eeebfa"/><stop offset="0.26647" stop-color="#ffffff"/><stop offset="0.28806" stop-color="#ffffff"/><stop offset="0.29135" stop-color="#fffdf2"/><stop offset="0.29780" stop-color="#fffdf2"/><stop offset="0.30109" stop-color="#f8f6fd"/><stop offset="0.30320" stop-color="#f8f6fd"/><stop offset="0.30649" stop-color="#fef8cb"/><stop offset="0.30969" stop-color="#fef8cb"/><stop offset="0.31298" stop-color="#fffdf2"/><stop offset="0.31835" stop-color="#fffdf2"/><stop offset="0.32164" stop-color="#fbed7b"/><stop offset="0.32916" stop-color="#fbed7b"/><stop offset="0.33245" stop-color="#c9c3ed"/><stop offset="0.34431" stop-color="#c9c3ed"/><stop offset="0.34760" stop-color="#bcb4e8"/><stop offset="0.34972" stop-color="#bcb4e8"/><stop offset="0.35301" stop-color="#877dcb"/><stop offset="0.35945" stop-color="#877dcb"/><stop offset="0.36274" stop-color="#a097d9"/><stop offset="0.36378" stop-color="#a097d9"/><stop offset="0.36707" stop-color="#5452ae"/><stop offset="0.37243" stop-color="#5452ae"/><stop offset="0.37572" stop-color="#877dcb"/><stop offset="0.38433" stop-color="#877dcb"/><stop offset="0.38762" stop-color="#c9c3ed"/><stop offset="0.39515" stop-color="#c9c3ed"/><stop offset="0.39844" stop-color="#5452ae"/><stop offset="0.40596" stop-color="#5452ae"/><stop offset="0.40925" stop-color="#f8f6fd"/><stop offset="0.41786" stop-color="#f8f6fd"/><stop offset="0.42115" stop-color="#eeebfa"/><stop offset="0.42327" stop-color="#eeebfa"/><stop offset="0.42656" stop-color="#fbfafe"/><stop offset="0.42976" stop-color="#fbfafe"/><stop offset="0.43305" stop-color="#e4e0f6"/><stop offset="0.43517" stop-color="#e4e0f6"/><stop offset="0.43790" stop-color="#bcb4e8"/><stop offset="0.44062" stop-color="#fdf4b1"/><stop offset="0.44599" stop-color="#fdf4b1"/><stop offset="0.44928" stop-color="#fef6be"/><stop offset="0.45788" stop-color="#fef6be"/><stop offset="0.46118" stop-color="#f9ea61"/><stop offset="0.46546" stop-color="#f9ea61"/><stop offset="0.46875" stop-color="#fbee89"/><stop offset="0.48060" stop-color="#fbee89"/><stop offset="0.48389" stop-color="#fbed7b"/><stop offset="0.49142" stop-color="#fbed7b"/><stop offset="0.49471" stop-color="#fef8cb"/><stop offset="0.50288" stop-color="#fef8cb"/><stop offset="0.50620" stop-color="#f7e639"/><stop offset="0.51806" stop-color="#f7e639"/><stop offset="0.52135" stop-color="#faeb6e"/><stop offset="0.52779" stop-color="#faeb6e"/><stop offset="0.53108" stop-color="#fbfafe"/><stop offset="0.54294" stop-color="#fbfafe"/><stop offset="0.54623" stop-color="#f4f2fc"/><stop offset="0.55375" stop-color="#f4f2fc"/><stop offset="0.55704" stop-color="#fef6be"/><stop offset="0.56349" stop-color="#fef6be"/><stop offset="0.56678" stop-color="#7b71c5"/><stop offset="0.56781" stop-color="#7b71c5"/><stop offset="0.57108" stop-color="#645db7"/><stop offset="0.57435" stop-color="#bcb4e8"/><stop offset="0.58620" stop-color="#bcb4e8"/><stop offset="0.58925" stop-color="#a097d9"/><stop offset="0.59231" stop-color="#f5e100"/><stop offset="0.60026" stop-color="#f5e100"/><stop offset="0.60356" stop-color="#fbed7b"/><stop offset="0.61433" stop-color="#fbed7b"/><stop offset="0.61762" stop-color="#f8e746"/><stop offset="0.61973" stop-color="#f8e746"/><stop offset="0.62303" stop-color="#fcf096"/><stop offset="0.63271" stop-color="#fcf096"/><stop offset="0.63601" stop-color="#fbed7b"/><stop offset="0.64029" stop-color="#fbed7b"/><stop offset="0.64358" stop-color="#fbfafe"/><stop offset="0.65435" stop-color="#fbfafe"/><stop offset="0.65764" stop-color="#e4e0f6"/><stop offset="0.66733" stop-color="#e4e0f6"/><stop offset="0.67062" stop-color="#bcb4e8"/><stop offset="0.69329" stop-color="#bcb4e8"/><stop offset="0.69658" stop-color="#a097d9"/><stop offset="0.70627" stop-color="#a097d9"/><stop offset="0.70956" stop-color="#877dcb"/><stop offset="0.71103" stop-color="#877dcb"/><stop offset="0.71432" stop-color="#fff9d7"/><stop offset="0.72790" stop-color="#fff9d7"/><stop offset="0.73119" stop-color="#fdf4b1"/><stop offset="0.74197" stop-color="#fdf4b1"/><stop offset="0.74526" stop-color="#fffef7"/><stop offset="0.75386" stop-color="#fffef7"/><stop offset="0.75715" stop-color="#fff9d7"/><stop offset="0.75884" stop-color="#fff9d7"/><stop offset="0.76216" stop-color="#e4e0f6"/><stop offset="0.76320" stop-color="#e4e0f6"/><stop offset="0.76649" stop-color="#c9c3ed"/><stop offset="0.76752" stop-color="#c9c3ed"/><stop offset="0.77081" stop-color="#e4e0f6"/><stop offset="0.77401" stop-color="#e4e0f6"/><stop offset="0.77730" stop-color="#a097d9"/><stop offset="0.78483" stop-color="#a097d9"/><stop offset="0.78810" stop-color="#7b71c5"/><stop offset="0.79137" stop-color="#fffbe4"/><stop offset="0.79781" stop-color="#fffbe4"/><stop offset="0.80110" stop-color="#fffdf2"/><stop offset="0.81079" stop-color="#fffdf2"/><stop offset="0.81408" stop-color="#eeebfa"/><stop offset="0.82269" stop-color="#eeebfa"/><stop offset="0.82598" stop-color="#ffffff"/><stop offset="0.83242" stop-color="#ffffff"/><stop offset="0.83572" stop-color="#c9c3ed"/><stop offset="0.84432" stop-color="#c9c3ed"/><stop offset="0.84761" stop-color="#a097d9"/><stop offset="0.85189" stop-color="#a097d9"/><stop offset="0.85519" stop-color="#7066be"/><stop offset="0.85947" stop-color="#7066be"/><stop offset="0.86276" stop-color="#5452ae"/><stop offset="0.86487" stop-color="#5452ae"/><stop offset="0.86817" stop-color="#645db7"/><stop offset="0.87569" stop-color="#645db7"/><stop offset="0.87898" stop-color="#5854b0"/><stop offset="0.88759" stop-color="#5854b0"/><stop offset="0.89088" stop-color="#fff9d7"/><stop offset="0.89949" stop-color="#fff9d7"/><stop offset="0.90278" stop-color="#fffef7"/><stop offset="0.91247" stop-color="#fffef7"/><stop offset="0.91576" stop-color="#ffffff"/><stop offset="0.91896" stop-color="#ffffff"/><stop offset="0.92225" stop-color="#fff9d7"/><stop offset="0.92437" stop-color="#fff9d7"/><stop offset="0.92766" stop-color="#fbed7b"/><stop offset="0.93410" stop-color="#fbed7b"/><stop offset="0.93739" stop-color="#fcf096"/><stop offset="0.95357" stop-color="#fcf096"/><stop offset="0.95686" stop-color="#fbed7b"/><stop offset="0.96655" stop-color="#fbed7b"/><stop offset="0.96984" stop-color="#f8e746"/><stop offset="0.98386" stop-color="#f8e746"/><stop offset="0.98715" stop-color="#f5e20a"/><stop offset="1.00000" stop-color="#f5e20a"/></linearGradient>
<rect x="1573.50" y="64.02" width="49.80" height="546.97" fill="url(#hg2)"/>
<linearGradient id="hg3" gradientUnits="userSpaceOnUse" x1="0" y1="64.02" x2="0" y2="610.99"><stop offset="0.00000" stop-color="#f5e100"/><stop offset="0.08943" stop-color="#f5e100"/><stop offset="0.09272" stop-color="#f7e42b"/><stop offset="0.09917" stop-color="#f7e42b"/><stop offset="0.10246" stop-color="#f6e214"/><stop offset="0.10890" stop-color="#f6e214"/><stop offset="0.11219" stop-color="#fbed7b"/><stop offset="0.12405" stop-color="#fbed7b"/><stop offset="0.12734" stop-color="#f8e746"/><stop offset="0.13378" stop-color="#f8e746"/><stop offset="0.13707" stop-color="#fbed7b"/><stop offset="0.15109" stop-color="#fbed7b"/><stop offset="0.15438" stop-color="#fdf2a3"/><stop offset="0.16407" stop-color="#fdf2a3"/><stop offset="0.16736" stop-color="#f9e853"/><stop offset="0.17921" stop-color="#f9e853"/><stop offset="0.18250" stop-color="#f5e100"/><stop offset="0.20409" stop-color="#f5e100"/><stop offset="0.20738" stop-color="#5e58b4"/><stop offset="0.22897" stop-color="#5e58b4"/><stop offset="0.23226" stop-color="#4f4fac"/><stop offset="0.23546" stop-color="#4f4fac"/><stop offset="0.23875" stop-color="#7066be"/><stop offset="0.25236" stop-color="#7066be"/><stop offset="0.25566" stop-color="#5e58b4"/><stop offset="0.25669" stop-color="#5e58b4"/><stop offset="0.25998" stop-color="#9288d2"/><stop offset="0.26318" stop-color="#9288d2"/><stop offset="0.26647" stop-color="#aea5e1"/><stop offset="0.27616" stop-color="#aea5e1"/><stop offset="0.27945" stop-color="#7b71c5"/><stop offset="0.28373" stop-color="#7b71c5"/><stop offset="0.28702" stop-color="#9288d2"/><stop offset="0.29239" stop-color="#9288d2"/><stop offset="0.29568" stop-color="#e4e0f6"/><stop offset="0.29888" stop-color="#e4e0f6"/><stop offset="0.30217" stop-color="#c9c3ed"/><stop offset="0.30753" stop-color="#c9c3ed"/><stop offset="0.31082" stop-color="#fbfafe"/><stop offset="0.31835" stop-color="#fbfafe"/><stop offset="0.32164" stop-color="#bcb4e8"/><stop offset="0.32376" stop-color="#bcb4e8"/><stop offset="0.32705" stop-color="#ffffff"/><stop offset="0.32916" stop-color="#ffffff"/><stop offset="0.33245" stop-color="#fef6be"/><stop offset="0.33782" stop-color="#fef6be"/><stop offset="0.34111" stop-color="#ffffff"/><stop offset="0.34863" stop-color="#ffffff"/><stop offset="0.35193" stop-color="#fbee89"/><stop offset="0.37243" stop-color="#fbee89"/><stop offset="0.37572" stop-color="#eeebfa"/><stop offset="0.37892" stop-color="#eeebfa"/><stop offset="0.38221" stop-color="#e4e0f6"/><stop offset="0.38974" stop-color="#e4e0f6"/><stop offset="0.39303" stop-color="#bcb4e8"/><stop offset="0.39515" stop-color="#bcb4e8"/><stop offset="0.39844" stop-color="#ffffff"/><stop offset="0.40056" stop-color="#ffffff"/><stop offset="0.40385" stop-color="#fff9d7"/><stop offset="0.40596" stop-color="#fff9d7"/><stop offset="0.40925" stop-color="#464aa8"/><stop offset="0.52779" stop-color="#464aa8"/><stop offset="0.53108" stop-color="#4f4fac"/><stop offset="0.56349" stop-color="#4f4fac"/><stop offset="0.56678" stop-color="#6a62ba"/><stop offset="0.57106" stop-color="#6a62ba"/><stop offset="0.57435" stop-color="#5452ae"/><stop offset="0.59702" stop-color="#5452ae"/><stop offset="0.60031" stop-color="#7066be"/><stop offset="0.60892" stop-color="#7066be"/><stop offset="0.61221" stop-color="#9288d2"/><stop offset="0.61433" stop-color="#9288d2"/><stop offset="0.61762" stop-color="#645db7"/><stop offset="0.61973" stop-color="#645db7"/><stop offset="0.62303" stop-color="#5452ae"/><stop offset="0.64029" stop-color="#5452ae"/><stop offset="0.64358" stop-color="#fbfafe"/><stop offset="0.65868" stop-color="#fbfafe"/><stop offset="0.66197" stop-color="#fef6be"/><stop offset="0.67382" stop-color="#fef6be"/><stop offset="0.67711" stop-color="#f8f6fd"/><stop offset="0.68464" stop-color="#f8f6fd"/><stop offset="0.68793" stop-color="#fffefa"/><stop offset="0.69329" stop-color="#fffefa"/><stop offset="0.69658" stop-color="#fffadf"/><stop offset="0.71060" stop-color="#fffadf"/><stop offset="0.71389" stop-color="#f8f6fd"/><stop offset="0.71925" stop-color="#f8f6fd"/><stop offset="0.72254" stop-color="#eae7f8"/><stop offset="0.73656" stop-color="#eae7f8"/><stop offset="0.73985" stop-color="#ffffff"/><stop offset="0.74197" stop-color="#ffffff"/><stop offset="0.74526" stop-color="#e4e0f6"/><stop offset="0.75386" stop-color="#e4e0f6"/><stop offset="0.75715" stop-color="#c9c3ed"/><stop offset="0.75884" stop-color="#c9c3ed"/><stop offset="0.76216" stop-color="#6a62ba"/><stop offset="0.76536" stop-color="#6a62ba"/><stop offset="0.76863" stop-color="#877dcb"/><stop offset="0.77190" stop-color="#5854b0"/><stop offset="0.77358" stop-color="#5854b0"/><stop offset="0.77687" stop-color="#e4e0f6"/><stop offset="0.78483" stop-color="#e4e0f6"/><stop offset="0.78810" stop-color="#f2effb"/><stop offset="0.79137" stop-color="#7066be"/><stop offset="0.79889" stop-color="#7066be"/><stop offset="0.80218" stop-color="#aea5e1"/><stop offset="0.81079" stop-color="#aea5e1"/><stop offset="0.81408" stop-color="#eeebfa"/><stop offset="0.82269" stop-color="#eeebfa"/><stop offset="0.82598" stop-color="#c9c3ed"/><stop offset="0.83632" stop-color="#c9c3ed"/><stop offset="0.83961" stop-color="#f7e42b"/><stop offset="0.84324" stop-color="#f7e42b"/><stop offset="0.84653" stop-color="#fcf096"/><stop offset="0.85838" stop-color="#fcf096"/><stop offset="0.86168" stop-color="#fffdf2"/><stop offset="0.86271" stop-color="#fffdf2"/><stop offset="0.86600" stop-color="#ffffff"/><stop offset="0.87353" stop-color="#ffffff"/><stop offset="0.87682" stop-color="#fdf2a3"/><stop offset="0.88867" stop-color="#fdf2a3"/><stop offset="0.89196" stop-color="#fbee89"/><stop offset="0.89733" stop-color="#fbee89"/><stop offset="0.90062" stop-color="#fcf096"/><stop offset="0.91031" stop-color="#fcf096"/><stop offset="0.91360" stop-color="#fef8cb"/><stop offset="0.92437" stop-color="#fef8cb"/><stop offset="0.92766" stop-color="#fef6be"/><stop offset="0.93194" stop-color="#fef6be"/><stop offset="0.93523" stop-color="#fff9d7"/><stop offset="0.94167" stop-color="#fff9d7"/><stop offset="0.94497" stop-color="#fbee89"/><stop offset="0.95249" stop-color="#fbee89"/><stop offset="0.95578" stop-color="#c9c3ed"/><stop offset="0.96655" stop-color="#c9c3ed"/><stop offset="0.96984" stop-color="#d7d1f1"/><stop offset="0.97737" stop-color="#d7d1f1"/><stop offset="0.98066" stop-color="#f4f2fc"/><stop offset="0.98494" stop-color="#f4f2fc"/><stop offset="0.98823" stop-color="#877dcb"/><stop offset="0.98927" stop-color="#877dcb"/><stop offset="0.99256" stop-color="#ffffff"/><stop offset="1.00000" stop-color="#ffffff"/></linearGradient>
<rect x="1622.90" y="64.02" width="49.90" height="546.97" fill="url(#hg3)"/>
<linearGradient id="hg4" gradientUnits="userSpaceOnUse" x1="0" y1="64.02" x2="0" y2="610.99"><stop offset="0.00000" stop-color="#f8f6fd"/><stop offset="0.00722" stop-color="#f8f6fd"/><stop offset="0.01052" stop-color="#bcb4e8"/><stop offset="0.02129" stop-color="#bcb4e8"/><stop offset="0.02455" stop-color="#877dcb"/><stop offset="0.02780" stop-color="#f8f6fd"/><stop offset="0.03107" stop-color="#d7d1f1"/><stop offset="0.03859" stop-color="#d7d1f1"/><stop offset="0.04188" stop-color="#fffbe4"/><stop offset="0.04617" stop-color="#fffbe4"/><stop offset="0.04946" stop-color="#f4f2fc"/><stop offset="0.05806" stop-color="#f4f2fc"/><stop offset="0.06135" stop-color="#fffce9"/><stop offset="0.07321" stop-color="#fffce9"/><stop offset="0.07650" stop-color="#fbee89"/><stop offset="0.08943" stop-color="#fbee89"/><stop offset="0.09272" stop-color="#f9e853"/><stop offset="0.11215" stop-color="#f9e853"/><stop offset="0.11544" stop-color="#f6e214"/><stop offset="0.12405" stop-color="#f6e214"/><stop offset="0.12734" stop-color="#f9e853"/><stop offset="0.15974" stop-color="#f9e853"/><stop offset="0.16303" stop-color="#fdf4b1"/><stop offset="0.16731" stop-color="#fdf4b1"/><stop offset="0.17060" stop-color="#9288d2"/><stop offset="0.18138" stop-color="#9288d2"/><stop offset="0.18467" stop-color="#ffffff"/><stop offset="0.18678" stop-color="#ffffff"/><stop offset="0.19007" stop-color="#7b71c5"/><stop offset="0.19868" stop-color="#7b71c5"/><stop offset="0.20197" stop-color="#5854b0"/><stop offset="0.20409" stop-color="#5854b0"/><stop offset="0.20738" stop-color="#f5e100"/><stop offset="0.32376" stop-color="#f5e100"/><stop offset="0.32705" stop-color="#f7e42b"/><stop offset="0.32916" stop-color="#f7e42b"/><stop offset="0.33245" stop-color="#f5e100"/><stop offset="0.40596" stop-color="#f5e100"/><stop offset="0.40925" stop-color="#f9ea61"/><stop offset="0.41570" stop-color="#f9ea61"/><stop offset="0.41899" stop-color="#fef6be"/><stop offset="0.42976" stop-color="#fef6be"/><stop offset="0.43305" stop-color="#f5e20a"/><stop offset="0.43733" stop-color="#f5e20a"/><stop offset="0.44062" stop-color="#fbed7b"/><stop offset="0.44382" stop-color="#fbed7b"/><stop offset="0.44711" stop-color="#f8e746"/><stop offset="0.45680" stop-color="#f8e746"/><stop offset="0.46009" stop-color="#fff9d7"/><stop offset="0.47195" stop-color="#fff9d7"/><stop offset="0.47524" stop-color="#fef6be"/><stop offset="0.48601" stop-color="#fef6be"/><stop offset="0.48930" stop-color="#fffef7"/><stop offset="0.49358" stop-color="#fffef7"/><stop offset="0.49687" stop-color="#fff9d7"/><stop offset="0.50288" stop-color="#fff9d7"/><stop offset="0.50620" stop-color="#f4f2fc"/><stop offset="0.52238" stop-color="#f4f2fc"/><stop offset="0.52567" stop-color="#eae7f8"/><stop offset="0.54294" stop-color="#eae7f8"/><stop offset="0.54623" stop-color="#fffefa"/><stop offset="0.55483" stop-color="#fffefa"/><stop offset="0.55812" stop-color="#e4e0f6"/><stop offset="0.56024" stop-color="#e4e0f6"/><stop offset="0.56351" stop-color="#bcb4e8"/><stop offset="0.56678" stop-color="#fffbe4"/><stop offset="0.56890" stop-color="#fffbe4"/><stop offset="0.57219" stop-color="#fdf2a3"/><stop offset="0.58079" stop-color="#fdf2a3"/><stop offset="0.58408" stop-color="#fef8cb"/><stop offset="0.58901" stop-color="#fef8cb"/><stop offset="0.59231" stop-color="#a097d9"/><stop offset="0.59377" stop-color="#a097d9"/><stop offset="0.59704" stop-color="#f8f6fd"/><stop offset="0.60031" stop-color="#5e58b4"/><stop offset="0.61973" stop-color="#5e58b4"/><stop offset="0.62303" stop-color="#bcb4e8"/><stop offset="0.63055" stop-color="#bcb4e8"/><stop offset="0.63384" stop-color="#9288d2"/><stop offset="0.64029" stop-color="#9288d2"/><stop offset="0.64358" stop-color="#4f4fac"/><stop offset="0.67382" stop-color="#4f4fac"/><stop offset="0.67711" stop-color="#645db7"/><stop offset="0.68464" stop-color="#645db7"/><stop offset="0.68793" stop-color="#5452ae"/><stop offset="0.69329" stop-color="#5452ae"/><stop offset="0.69658" stop-color="#645db7"/><stop offset="0.71060" stop-color="#645db7"/><stop offset="0.71389" stop-color="#4a4caa"/><stop offset="0.74197" stop-color="#4a4caa"/><stop offset="0.74526" stop-color="#5452ae"/><stop offset="0.75884" stop-color="#5452ae"/><stop offset="0.76216" stop-color="#c9c3ed"/><stop offset="0.76752" stop-color="#c9c3ed"/><stop offset="0.77081" stop-color="#eeebfa"/><stop offset="0.77401" stop-color="#eeebfa"/><stop offset="0.77730" stop-color="#9288d2"/><stop offset="0.78699" stop-color="#9288d2"/><stop offset="0.79028" stop-color="#7066be"/><stop offset="0.79889" stop-color="#7066be"/><stop offset="0.80218" stop-color="#5e58b4"/><stop offset="0.83632" stop-color="#5e58b4"/><stop offset="0.83961" stop-color="#4a4caa"/><stop offset="0.84432" stop-color="#4a4caa"/><stop offset="0.84761" stop-color="#5854b0"/><stop offset="0.85838" stop-color="#5854b0"/><stop offset="0.86168" stop-color="#c9c3ed"/><stop offset="0.86487" stop-color="#c9c3ed"/><stop offset="0.86817" stop-color="#9288d2"/><stop offset="0.88759" stop-color="#9288d2"/><stop offset="0.89088" stop-color="#464aa8"/><stop offset="0.96223" stop-color="#464aa8"/><stop offset="0.96552" stop-color="#4a4caa"/><stop offset="0.98494" stop-color="#4a4caa"/><stop offset="0.98823" stop-color="#5854b0"/><stop offset="0.98927" stop-color="#5854b0"/><stop offset="0.99256" stop-color="#4a4caa"/><stop offset="1.00000" stop-color="#4a4caa"/></linearGradient>
<rect x="1672.40" y="64.02" width="49.70" height="546.97" fill="url(#hg4)"/>
<path d="M1434.2,143.2L1434.2,242.7M1434.2,143.2L1442.2,143.2M1442.2,119.9L1442.2,167.2M1442.2,119.9L1466.3,119.9M1466.3,93.2L1466.3,145.7M1466.3,93.2L1471.7,93.2M1471.7,78.3L1471.7,109.3M1471.7,78.3L1477.4,78.3M1477.4,71.3L1477.4,85.5M1477.4,71.3L1481.6,71.3M1481.6,67.1L1481.6,75.4M1477.4,85.5L1481.6,85.5M1481.6,81.1L1481.6,90.0M1471.7,109.3L1479.5,109.3M1479.5,103.1L1479.5,115.2M1479.5,103.1L1482.3,103.1M1482.3,100.2L1482.3,105.3M1479.5,115.2L1483.8,115.2M1466.3,145.7L1479.5,145.7M1479.5,138.3L1479.5,153.2M1479.5,138.3L1481.6,138.3M1481.6,131.3L1481.6,145.3M1479.5,153.2L1483.8,153.2M1442.2,167.2L1467.4,167.2M1467.4,162.5L1467.4,171.4M1467.4,162.5L1476.5,162.5M1476.5,160.3L1476.5,164.4M1476.5,160.3L1482.9,160.3M1476.5,164.4L1483.8,164.4M1467.4,171.4L1480.6,171.4M1480.6,170.1L1480.6,173.3M1434.2,242.7L1457.4,242.7M1457.4,216.6L1457.4,269.4M1457.4,216.6L1471.1,216.6M1471.1,196.2L1471.1,236.3M1471.1,196.2L1477.4,196.2M1477.4,186.4L1477.4,207.3M1477.4,186.4L1480.6,186.4M1480.6,181.6L1480.6,191.4M1477.4,207.3L1481.6,207.3M1481.6,200.7L1481.6,214.0M1471.1,236.3L1480.6,236.3M1480.6,232.2L1480.6,240.5M1433.5,193.0L1433.5,460.2" stroke="#2b2b2b" stroke-width="0.85" fill="none" stroke-linecap="square"/>
<path d="M1457.4,269.2L1474.6,269.2M1474.6,260.3L1474.6,278.7M1474.6,260.3L1477.8,260.3M1477.8,254.5L1477.8,265.1M1477.8,254.5L1481.6,254.5M1481.6,250.1L1481.6,259.0M1477.8,265.1L1483.8,265.1M1474.6,278.7L1479.5,278.7M1479.5,274.5L1479.5,282.8M1437.7,375.4L1437.7,545.3M1437.7,375.4L1448.5,375.4M1448.5,353.5L1448.5,397.0M1448.5,353.5L1465.5,353.5M1465.5,329.2L1465.5,378.2M1465.5,329.2L1470.2,329.2M1470.2,306.3L1470.2,353.5M1470.2,306.3L1475.3,306.3M1475.3,296.9L1475.3,315.4M1475.3,296.9L1479.5,296.9M1479.5,292.7L1479.5,301.4M1475.3,315.4L1481.6,315.4M1481.6,308.6L1481.6,322.9M1470.2,353.5L1478.7,353.5M1478.7,341.7L1478.7,365.2M1478.7,341.7L1481.6,341.7M1481.6,336.0L1481.6,346.8M1478.7,365.2L1483.8,365.2M1465.5,378.2L1481.0,378.2M1481.0,374.1L1481.0,381.8M1448.5,397.0L1473.3,397.0M1473.3,389.4L1473.3,404.0M1473.3,389.4L1479.7,389.4M1473.3,404.0L1481.6,404.0M1481.6,398.9L1481.6,409.1M1477.2,434.3L1481.6,434.3M1482.9,423.1L1482.9,434.9" stroke="#2b2b2b" stroke-width="0.85" fill="none" stroke-linecap="square"/>
<path d="M1433.7,460.4L1437.7,460.4M1437.7,545.4L1456.2,545.4M1456.2,504.6L1456.2,587.0M1456.2,504.6L1462.8,504.6M1462.8,475.5L1462.8,534.2M1462.8,475.5L1471.4,475.5M1471.4,451.5L1471.4,498.2M1471.4,451.5L1477.2,451.5M1477.2,434.4L1477.2,469.1M1477.2,469.1L1482.3,469.1M1482.3,463.0L1482.3,475.5M1471.4,498.2L1478.2,498.2M1478.2,488.4L1478.2,509.0M1478.2,488.4L1480.6,488.4M1480.6,483.6L1480.6,492.3M1478.2,509.0L1481.6,509.0M1481.6,502.4L1481.6,516.4M1462.8,534.2L1474.6,534.2M1474.6,526.3L1474.6,541.2M1474.6,526.3L1482.3,526.3M1482.3,524.1L1482.3,529.4M1474.6,541.2L1482.9,541.2M1482.9,537.4L1482.9,545.7M1456.2,587.0L1472.3,587.0M1472.3,570.1L1472.3,604.2M1472.3,570.1L1481.2,570.1M1481.2,561.0L1481.2,578.5M1472.3,604.2L1481.2,604.2M1481.2,600.4L1481.2,608.3" stroke="#2b2b2b" stroke-width="0.85" fill="none" stroke-linecap="square"/>
<path d="M1484.3,64.5 V609.5" stroke="#151515" stroke-width="1.25" stroke-dasharray="4.6,1.7,3.2,1.5,5.5,2" fill="none"/>
<path d="M1483.6,66.0V68.0H1482.6V71.0H1483.0V73.0H1483.6V74.5H1483.0V76.5H1481.0V78.5H1482.0V80.0H1482.0V83.0H1482.0V86.0H1482.0V90.0H1483.0V93.0H1483.6V96.0H1483.0V97.5H1482.6V101.5H1482.0V104.5H1482.0V106.0H1482.6V107.5H1483.6V110.5H1481.0V113.5H1483.6V115.0H1482.6V117.0H1483.6V120.0H1481.0V122.0H1481.0V124.0H1481.0V125.5H1481.0V127.0H1482.0V129.0H1483.0V133.0H1482.0V137.0H1482.0V139.5H1481.0V142.0H1482.0V144.0H1483.0V148.0H1483.6V152.0H1482.6V154.5H1482.0V158.5H1481.0V160.5H1482.6V162.5H1482.6V166.5H1482.6V170.5H1483.6V174.5H1481.0V176.5H1482.6V178.5H1483.6V181.0H1482.6V183.0H1482.6V184.5H1482.0V187.0H1482.0V189.5H1482.0V191.5H1482.0V193.0H1483.0V194.5H1483.0V196.5H1482.6V198.0H1483.6V201.0H1482.6V203.0H1481.0V206.0H1483.0V208.0H1482.0V212.0H1482.0V215.0H1482.0V216.5H1481.0V218.0H1482.6V219.5H1483.6V221.0H1483.6V225.0H1481.0V227.5H1483.0V231.5H1482.0V233.5H1481.0V235.0H1483.0V236.5H1483.0V239.0H1482.0V243.0H1483.6V245.5H1482.6V248.0H1482.6V249.5H1482.0V251.5H1483.6V255.5H1483.6V259.5H1483.0V261.5H1482.6V264.5H1482.0V266.0H1483.6V268.0H1481.0V270.0H1482.0V273.0H1483.0V276.0H1483.6V277.5H1481.0V280.5H1483.0V283.5H1481.0V285.0H1482.0V289.0H1482.0V291.5H1482.0V293.5H1483.6V295.5H1483.6V298.5H1483.6V300.0H1483.0V301.5H1481.0V305.5H1483.6V308.0H1482.0V312.0H1483.6V316.0H1481.0V320.0H1483.0V324.0H1483.0V326.5H1481.0V329.5H1481.0V331.5H1483.6V334.0H1481.0V336.5H1483.6V339.0H1482.0V341.0H1482.6V342.5H1481.0V345.5H1482.6V348.0H1481.0V350.5H1482.6V353.0H1483.6V355.0H1482.0V357.5H1482.0V361.5H1482.6V363.5H1482.6V366.5H1481.0V369.5H1481.0V372.0H1481.0V376.0H1482.6V379.0H1483.0V382.0H1481.0V386.0H1483.6V388.5H1483.0V390.0H1482.0V392.5H1482.0V394.0H1481.0V396.5H1482.6V399.0H1481.0V401.5H1482.6V404.5H1483.0V407.0H1483.0V409.0H1481.0V412.0H1483.0V414.0H1481.0V418.0H1483.0V420.5H1482.0V422.0H1483.6V425.0H1483.6V427.0H1481.0V430.0H1483.6V432.0H1483.6V436.0H1483.0V438.5H1483.6V440.0H1482.0V443.0H1482.6V447.0H1483.6V449.0H1481.0V451.5H1483.6V454.0H1483.6V455.5H1483.0V458.0H1483.6V460.0H1483.6V464.0H1482.6V466.0H1482.6V468.5H1482.6V470.0H1481.0V471.5H1481.0V474.0H1482.0V476.0H1483.0V478.5H1482.0V480.5H1482.0V482.0H1483.6V486.0H1483.0V487.5H1482.6V489.5H1482.6V491.5H1483.6V493.0H1483.6V497.0H1483.0V499.0H1481.0V501.5H1482.6V503.5H1481.0V506.5H1483.6V510.5H1483.6V512.5H1483.0V514.5H1482.6V516.5H1482.0V518.5H1483.0V520.5H1482.0V522.0H1482.0V526.0H1481.0V528.5H1482.0V531.5H1481.0V534.0H1481.0V537.0H1482.6V541.0H1483.0V543.5H1482.6V546.5H1483.0V549.0H1482.0V553.0H1481.0V557.0H1482.6V559.0H1481.0V563.0H1482.0V565.0H1482.0V568.0H1483.6V570.5H1482.0V572.0H1483.6V574.5H1481.0V577.0H1482.6V580.0H1483.6V584.0H1483.0V585.5H1483.6V587.5H1482.0V591.5H1483.0V594.5H1481.0V598.5H1483.6V601.0H1481.0V602.5H1481.0V605.0H1482.6V606.5H1482.6V608.0H1482.0" stroke="#444" stroke-width="0.6" fill="none"/>
<text transform="translate(1508.8 646.4) scale(1 1.045)" font-size="34.6" text-anchor="end" fill="#111">HFtLFb</text>
<text transform="translate(1502.2 697.3) scale(1 1.045)" font-size="34.6" text-anchor="end" fill="#111">Gv</text>
<text transform="translate(1544.8 647.14) scale(1 1.0)" font-size="45.5" text-anchor="middle" fill="#111" stroke="#111" stroke-width="0.3">–</text>
<text transform="translate(1592.4 647.14) scale(1 1.0)" font-size="45.5" text-anchor="middle" fill="#111" stroke="#111" stroke-width="0.3">–</text>
<text transform="translate(1645.1 649.7) scale(1 1.0)" font-size="41.2" text-anchor="middle" fill="#111" stroke="#111" stroke-width="1.0">+</text>
<text transform="translate(1703.1 649.7) scale(1 1.0)" font-size="41.2" text-anchor="middle" fill="#111" stroke="#111" stroke-width="1.0">+</text>
<text transform="translate(1544.8 699.64) scale(1 1.0)" font-size="45.5" text-anchor="middle" fill="#111" stroke="#111" stroke-width="0.3">–</text>
<text transform="translate(1594.2 702.2) scale(1 1.0)" font-size="41.2" text-anchor="middle" fill="#111" stroke="#111" stroke-width="1.0">+</text>
<text transform="translate(1645.1 699.64) scale(1 1.0)" font-size="45.5" text-anchor="middle" fill="#111" stroke="#111" stroke-width="0.3">–</text>
<text transform="translate(1703.1 702.2) scale(1 1.0)" font-size="41.2" text-anchor="middle" fill="#111" stroke="#111" stroke-width="1.0">+</text>
<text transform="translate(294.7 806.7) scale(1 1.035)" font-size="48.0" fill="#111">D</text>
<defs><clipPath id="v2a"><circle cx="487.4" cy="1084.4" r="105.6" /></clipPath><clipPath id="v2b"><circle cx="589.2" cy="1127.3" r="52.8" /></clipPath><clipPath id="v2c"><circle cx="536.2" cy="1216.6" r="89.5" /></clipPath></defs>
<circle cx="487.4" cy="1084.4" r="105.6" fill="#fde9a0"/>
<circle cx="589.2" cy="1127.3" r="52.8" fill="#fecbc8"/>
<circle cx="536.2" cy="1216.6" r="89.5" fill="#a0cbe6"/>
<g clip-path="url(#v2a)"><circle cx="589.2" cy="1127.3" r="52.8" fill="#fdc498"/><circle cx="536.2" cy="1216.6" r="89.5" fill="#cdd29a"/></g>
<g clip-path="url(#v2b)"><circle cx="536.2" cy="1216.6" r="89.5" fill="#cdb2c2"/></g>
<g clip-path="url(#v2a)"><g clip-path="url(#v2b)"><circle cx="536.2" cy="1216.6" r="89.5" fill="#e2b590"/></g></g>
<text transform="translate(330.4 968) scale(1 1.045)" font-size="25.8" fill="#111">LFtHFb+Gv vs.</text>
<text transform="translate(330.4 999.8) scale(1 1.045)" font-size="25.8" fill="#111">LFtHFb</text>
<text transform="translate(771.2 1065.9) scale(1 1.045)" font-size="25.8" text-anchor="end" fill="#111">HFtLFb+Gv vs.</text>
<text transform="translate(771.2 1096.8) scale(1 1.045)" font-size="25.8" text-anchor="end" fill="#111">LFtHFb+Gv</text>
<text transform="translate(475.4 1073.4) scale(1 1.045)" font-size="34.4" text-anchor="middle" fill="#111">285</text>
<text transform="translate(567.4 1119.1) scale(1 1.045)" font-size="30.8" text-anchor="middle" fill="#111">1</text>
<text transform="translate(612.5 1134.2) scale(1 1.045)" font-size="34.0" text-anchor="middle" fill="#111">12</text>
<text transform="translate(504.0 1174.9) scale(1 1.045)" font-size="30.9" text-anchor="middle" fill="#111">245</text>
<text transform="translate(580.0 1173.2) scale(1 1.045)" font-size="31.0" text-anchor="middle" fill="#111">6</text>
<text transform="translate(541.2 1249) scale(1 1.045)" font-size="34.2" text-anchor="middle" fill="#111">232</text>
<text transform="translate(413.0 1333) scale(1 1.045)" font-size="25.8" fill="#111">HFtLFb+Gv vs. LFtHFb</text>
<text transform="translate(785.8 806.5) scale(1 1.035)" font-size="48.0" fill="#111">E</text>
<defs><linearGradient id="ckE" x1="0" x2="1" y1="0" y2="0"><stop offset="0.000" stop-color="#464aa8"/><stop offset="0.100" stop-color="#5854b0"/><stop offset="0.200" stop-color="#7066be"/><stop offset="0.275" stop-color="#9288d2"/><stop offset="0.350" stop-color="#bcb4e8"/><stop offset="0.425" stop-color="#e4e0f6"/><stop offset="0.475" stop-color="#f8f6fd"/><stop offset="0.500" stop-color="#ffffff"/><stop offset="0.550" stop-color="#fffbe4"/><stop offset="0.625" stop-color="#fef6be"/><stop offset="0.700" stop-color="#fcf096"/><stop offset="0.775" stop-color="#faeb6e"/><stop offset="0.850" stop-color="#f8e746"/><stop offset="0.925" stop-color="#f6e31e"/><stop offset="1.000" stop-color="#f5e100"/></linearGradient></defs>
<rect x="826" y="860.5" width="74.60000000000002" height="16.399999999999977" fill="url(#ckE)" stroke="#9a9a8a" stroke-width="0.5"/>
<path d="M838.7,876.9V886.7M851.3,876.9V886.7M863.5,876.9V886.7M876.3,876.9V886.7M889.7,876.9V886.7M899.2,876.9V886.7" stroke="#666" stroke-width="1.2" fill="none"/>
<text transform="translate(818.4 848.7) scale(1 1.045)" font-size="18.4" font-weight="bold" fill="#000">Color Key</text>
<text transform="translate(832.9 898.4) scale(1 1.045)" font-size="14.6" text-anchor="middle" fill="#111">−1</text>
<text transform="translate(898.7 898.4) scale(1 1.045)" font-size="14.6" text-anchor="middle" fill="#111">1</text>
<text transform="translate(818.1 914.5) scale(1 1.045)" font-size="15.0" fill="#111">Row Z−Score</text>
<rect x="965.8" y="836" width="24.2" height="273.50" fill="#50cca8"/>
<rect x="965.8" y="1109.4" width="24.2" height="11.20" fill="#e0087c"/>
<rect x="965.8" y="1120.5" width="24.2" height="36.10" fill="#4450a8"/>
<rect x="965.8" y="1156.5" width="24.2" height="143.90" fill="#f09000"/>
<rect x="965.8" y="1300.3" width="24.2" height="100.60" fill="#50b80c"/>
<linearGradient id="hg5" gradientUnits="userSpaceOnUse" x1="0" y1="835.98" x2="0" y2="1400.91"><stop offset="0.00000" stop-color="#4f4fac"/><stop offset="0.00968" stop-color="#4f4fac"/><stop offset="0.01286" stop-color="#5e58b4"/><stop offset="0.01658" stop-color="#5e58b4"/><stop offset="0.01976" stop-color="#4f4fac"/><stop offset="0.03383" stop-color="#4f4fac"/><stop offset="0.03701" stop-color="#5452ae"/><stop offset="0.03958" stop-color="#5452ae"/><stop offset="0.04276" stop-color="#4c4eab"/><stop offset="0.05453" stop-color="#4c4eab"/><stop offset="0.05771" stop-color="#5854b0"/><stop offset="0.06373" stop-color="#5854b0"/><stop offset="0.06691" stop-color="#464aa8"/><stop offset="0.45955" stop-color="#464aa8"/><stop offset="0.46273" stop-color="#4f4fac"/><stop offset="0.46875" stop-color="#4f4fac"/><stop offset="0.47193" stop-color="#464aa8"/><stop offset="0.47450" stop-color="#464aa8"/><stop offset="0.47768" stop-color="#5452ae"/><stop offset="0.47795" stop-color="#5452ae"/><stop offset="0.48113" stop-color="#f6e214"/><stop offset="0.48485" stop-color="#f6e214"/><stop offset="0.48803" stop-color="#f9ea61"/><stop offset="0.48945" stop-color="#f9ea61"/><stop offset="0.49263" stop-color="#eeebfa"/><stop offset="0.49635" stop-color="#eeebfa"/><stop offset="0.49953" stop-color="#a097d9"/><stop offset="0.50118" stop-color="#a097d9"/><stop offset="0.50367" stop-color="#bcb4e8"/><stop offset="0.50618" stop-color="#f6e31e"/><stop offset="0.50806" stop-color="#f6e31e"/><stop offset="0.51124" stop-color="#f8e746"/><stop offset="0.51151" stop-color="#f8e746"/><stop offset="0.51469" stop-color="#f6e214"/><stop offset="0.51496" stop-color="#f6e214"/><stop offset="0.51814" stop-color="#f8e746"/><stop offset="0.51841" stop-color="#f8e746"/><stop offset="0.52159" stop-color="#f6e214"/><stop offset="0.52301" stop-color="#f6e214"/><stop offset="0.52575" stop-color="#f8e746"/><stop offset="0.52849" stop-color="#fffdf2"/><stop offset="0.52876" stop-color="#fffdf2"/><stop offset="0.53194" stop-color="#f5e100"/><stop offset="0.56142" stop-color="#f5e100"/><stop offset="0.56460" stop-color="#fffef7"/><stop offset="0.56625" stop-color="#fffef7"/><stop offset="0.56943" stop-color="#f5e100"/><stop offset="0.82567" stop-color="#f5e100"/><stop offset="0.82886" stop-color="#f6e31e"/><stop offset="0.82912" stop-color="#f6e31e"/><stop offset="0.83231" stop-color="#f5e20a"/><stop offset="0.83487" stop-color="#f5e20a"/><stop offset="0.83806" stop-color="#f7e42b"/><stop offset="0.83878" stop-color="#f7e42b"/><stop offset="0.84197" stop-color="#f5e100"/><stop offset="0.98783" stop-color="#f5e100"/><stop offset="0.99101" stop-color="#f5e20a"/><stop offset="1.00000" stop-color="#f5e20a"/></linearGradient>
<rect x="991.70" y="835.98" width="52.80" height="564.94" fill="url(#hg5)"/>
<linearGradient id="hg6" gradientUnits="userSpaceOnUse" x1="0" y1="835.98" x2="0" y2="1400.91"><stop offset="0.00000" stop-color="#ffffff"/><stop offset="0.00209" stop-color="#ffffff"/><stop offset="0.00527" stop-color="#eeebfa"/><stop offset="0.00623" stop-color="#eeebfa"/><stop offset="0.00941" stop-color="#ffffff"/><stop offset="0.00968" stop-color="#ffffff"/><stop offset="0.01286" stop-color="#877dcb"/><stop offset="0.01658" stop-color="#877dcb"/><stop offset="0.01976" stop-color="#eeebfa"/><stop offset="0.02003" stop-color="#eeebfa"/><stop offset="0.02321" stop-color="#bcb4e8"/><stop offset="0.02348" stop-color="#bcb4e8"/><stop offset="0.02666" stop-color="#ffffff"/><stop offset="0.02992" stop-color="#ffffff"/><stop offset="0.03310" stop-color="#f5e20a"/><stop offset="0.03613" stop-color="#f5e20a"/><stop offset="0.03931" stop-color="#f9e853"/><stop offset="0.05453" stop-color="#f9e853"/><stop offset="0.05771" stop-color="#fdf4b1"/><stop offset="0.06258" stop-color="#fdf4b1"/><stop offset="0.06576" stop-color="#fef8cb"/><stop offset="0.07753" stop-color="#fef8cb"/><stop offset="0.08071" stop-color="#fcf096"/><stop offset="0.09823" stop-color="#fcf096"/><stop offset="0.10141" stop-color="#fffcec"/><stop offset="0.10743" stop-color="#fffcec"/><stop offset="0.11061" stop-color="#fff9d7"/><stop offset="0.12008" stop-color="#fff9d7"/><stop offset="0.12326" stop-color="#fdf2a3"/><stop offset="0.14653" stop-color="#fdf2a3"/><stop offset="0.14972" stop-color="#fdf4b1"/><stop offset="0.15573" stop-color="#fdf4b1"/><stop offset="0.15892" stop-color="#fbee89"/><stop offset="0.18448" stop-color="#fbee89"/><stop offset="0.18767" stop-color="#fff9d7"/><stop offset="0.19828" stop-color="#fff9d7"/><stop offset="0.20147" stop-color="#fdf4b1"/><stop offset="0.20863" stop-color="#fdf4b1"/><stop offset="0.21182" stop-color="#f8e746"/><stop offset="0.24451" stop-color="#f8e746"/><stop offset="0.24768" stop-color="#f9e853"/><stop offset="0.24909" stop-color="#f9e853"/><stop offset="0.25228" stop-color="#f6e31e"/><stop offset="0.26519" stop-color="#f6e31e"/><stop offset="0.26838" stop-color="#fcf096"/><stop offset="0.27899" stop-color="#fcf096"/><stop offset="0.28218" stop-color="#fbed7b"/><stop offset="0.29394" stop-color="#fbed7b"/><stop offset="0.29713" stop-color="#fcf096"/><stop offset="0.30659" stop-color="#fcf096"/><stop offset="0.30978" stop-color="#f6e214"/><stop offset="0.31694" stop-color="#f6e214"/><stop offset="0.32013" stop-color="#f5e100"/><stop offset="0.32499" stop-color="#f5e100"/><stop offset="0.32818" stop-color="#f6e31e"/><stop offset="0.35259" stop-color="#f6e31e"/><stop offset="0.35578" stop-color="#f5e20a"/><stop offset="0.36294" stop-color="#f5e20a"/><stop offset="0.36613" stop-color="#f9e853"/><stop offset="0.39629" stop-color="#f9e853"/><stop offset="0.39948" stop-color="#f7e639"/><stop offset="0.41239" stop-color="#f7e639"/><stop offset="0.41558" stop-color="#f9ea61"/><stop offset="0.42159" stop-color="#f9ea61"/><stop offset="0.42478" stop-color="#f7e639"/><stop offset="0.44115" stop-color="#f7e639"/><stop offset="0.44433" stop-color="#fbed7b"/><stop offset="0.44460" stop-color="#fbed7b"/><stop offset="0.44778" stop-color="#fcf096"/><stop offset="0.45610" stop-color="#fcf096"/><stop offset="0.45928" stop-color="#fffdf2"/><stop offset="0.45955" stop-color="#fffdf2"/><stop offset="0.46273" stop-color="#f5e100"/><stop offset="0.47795" stop-color="#f5e100"/><stop offset="0.48113" stop-color="#464aa8"/><stop offset="0.48715" stop-color="#464aa8"/><stop offset="0.49023" stop-color="#7066be"/><stop offset="0.49332" stop-color="#5452ae"/><stop offset="0.49750" stop-color="#5452ae"/><stop offset="0.50068" stop-color="#9288d2"/><stop offset="0.50118" stop-color="#9288d2"/><stop offset="0.50367" stop-color="#d7d1f1"/><stop offset="0.50618" stop-color="#ffffff"/><stop offset="0.50806" stop-color="#ffffff"/><stop offset="0.51124" stop-color="#d7d1f1"/><stop offset="0.51450" stop-color="#d7d1f1"/><stop offset="0.51768" stop-color="#fffbe4"/><stop offset="0.52761" stop-color="#fffbe4"/><stop offset="0.53079" stop-color="#fcf096"/><stop offset="0.53451" stop-color="#fcf096"/><stop offset="0.53769" stop-color="#fffbe4"/><stop offset="0.54141" stop-color="#fffbe4"/><stop offset="0.54459" stop-color="#f8f6fd"/><stop offset="0.55061" stop-color="#f8f6fd"/><stop offset="0.55379" stop-color="#eae7f8"/><stop offset="0.56142" stop-color="#eae7f8"/><stop offset="0.56460" stop-color="#f5e20a"/><stop offset="0.56625" stop-color="#f5e20a"/><stop offset="0.56943" stop-color="#a69ddc"/><stop offset="0.57936" stop-color="#a69ddc"/><stop offset="0.58255" stop-color="#7066be"/><stop offset="0.58396" stop-color="#7066be"/><stop offset="0.58715" stop-color="#877dcb"/><stop offset="0.60466" stop-color="#877dcb"/><stop offset="0.60785" stop-color="#9086d1"/><stop offset="0.62536" stop-color="#9086d1"/><stop offset="0.62855" stop-color="#8b81ce"/><stop offset="0.65986" stop-color="#8b81ce"/><stop offset="0.66305" stop-color="#6b62bb"/><stop offset="0.67596" stop-color="#6b62bb"/><stop offset="0.67915" stop-color="#7066be"/><stop offset="0.70126" stop-color="#7066be"/><stop offset="0.70445" stop-color="#6b62bb"/><stop offset="0.73231" stop-color="#6b62bb"/><stop offset="0.73550" stop-color="#8278c9"/><stop offset="0.74496" stop-color="#8278c9"/><stop offset="0.74815" stop-color="#aea5e1"/><stop offset="0.76472" stop-color="#aea5e1"/><stop offset="0.76791" stop-color="#9a91d6"/><stop offset="0.78082" stop-color="#9a91d6"/><stop offset="0.78401" stop-color="#c9c3ed"/><stop offset="0.78887" stop-color="#c9c3ed"/><stop offset="0.79206" stop-color="#5854b0"/><stop offset="0.79462" stop-color="#5854b0"/><stop offset="0.79760" stop-color="#645db7"/><stop offset="0.80057" stop-color="#4f4fac"/><stop offset="0.80612" stop-color="#4f4fac"/><stop offset="0.80931" stop-color="#fffef7"/><stop offset="0.81302" stop-color="#fffef7"/><stop offset="0.81621" stop-color="#eeebfa"/><stop offset="0.81808" stop-color="#eeebfa"/><stop offset="0.82117" stop-color="#ffffff"/><stop offset="0.82426" stop-color="#5452ae"/><stop offset="0.83602" stop-color="#5452ae"/><stop offset="0.83900" stop-color="#6a62ba"/><stop offset="0.84197" stop-color="#4f4fac"/><stop offset="0.85442" stop-color="#4f4fac"/><stop offset="0.85761" stop-color="#5452ae"/><stop offset="0.87167" stop-color="#5452ae"/><stop offset="0.87486" stop-color="#645db7"/><stop offset="0.88203" stop-color="#645db7"/><stop offset="0.88521" stop-color="#5854b0"/><stop offset="0.90848" stop-color="#5854b0"/><stop offset="0.91166" stop-color="#aea5e1"/><stop offset="0.92113" stop-color="#aea5e1"/><stop offset="0.92431" stop-color="#d7d1f1"/><stop offset="0.92918" stop-color="#d7d1f1"/><stop offset="0.93236" stop-color="#bcb4e8"/><stop offset="0.93953" stop-color="#bcb4e8"/><stop offset="0.94271" stop-color="#9288d2"/><stop offset="0.94413" stop-color="#9288d2"/><stop offset="0.94731" stop-color="#aea5e1"/><stop offset="0.95333" stop-color="#aea5e1"/><stop offset="0.95651" stop-color="#877dcb"/><stop offset="0.96483" stop-color="#877dcb"/><stop offset="0.96801" stop-color="#7066be"/><stop offset="0.97633" stop-color="#7066be"/><stop offset="0.97951" stop-color="#aea5e1"/><stop offset="0.98898" stop-color="#aea5e1"/><stop offset="0.99216" stop-color="#7066be"/><stop offset="1.00000" stop-color="#7066be"/></linearGradient>
<rect x="1044.10" y="835.98" width="53.80" height="564.94" fill="url(#hg6)"/>
<linearGradient id="hg7" gradientUnits="userSpaceOnUse" x1="0" y1="835.98" x2="0" y2="1400.91"><stop offset="0.00000" stop-color="#fbfafe"/><stop offset="0.00577" stop-color="#fbfafe"/><stop offset="0.00895" stop-color="#fdf2a3"/><stop offset="0.01083" stop-color="#fdf2a3"/><stop offset="0.01401" stop-color="#fef8cb"/><stop offset="0.01589" stop-color="#fef8cb"/><stop offset="0.01907" stop-color="#f7e42b"/><stop offset="0.02233" stop-color="#f7e42b"/><stop offset="0.02551" stop-color="#f9e853"/><stop offset="0.02992" stop-color="#f9e853"/><stop offset="0.03310" stop-color="#c9c3ed"/><stop offset="0.03383" stop-color="#c9c3ed"/><stop offset="0.03701" stop-color="#9288d2"/><stop offset="0.03889" stop-color="#9288d2"/><stop offset="0.04207" stop-color="#d7d1f1"/><stop offset="0.04878" stop-color="#d7d1f1"/><stop offset="0.05196" stop-color="#eae7f8"/><stop offset="0.05798" stop-color="#eae7f8"/><stop offset="0.06116" stop-color="#a097d9"/><stop offset="0.06327" stop-color="#a097d9"/><stop offset="0.06645" stop-color="#f9e853"/><stop offset="0.07753" stop-color="#f9e853"/><stop offset="0.08071" stop-color="#fdf2a3"/><stop offset="0.09823" stop-color="#fdf2a3"/><stop offset="0.10141" stop-color="#fef6be"/><stop offset="0.10973" stop-color="#fef6be"/><stop offset="0.11291" stop-color="#fdf2a3"/><stop offset="0.12008" stop-color="#fdf2a3"/><stop offset="0.12326" stop-color="#fef8d0"/><stop offset="0.14653" stop-color="#fef8d0"/><stop offset="0.14972" stop-color="#fffef7"/><stop offset="0.18448" stop-color="#fffef7"/><stop offset="0.18767" stop-color="#fcfbfe"/><stop offset="0.20058" stop-color="#fcfbfe"/><stop offset="0.20377" stop-color="#f4f2fc"/><stop offset="0.20863" stop-color="#f4f2fc"/><stop offset="0.21182" stop-color="#fff9d7"/><stop offset="0.23853" stop-color="#fff9d7"/><stop offset="0.24172" stop-color="#fef8cb"/><stop offset="0.24451" stop-color="#fef8cb"/><stop offset="0.24768" stop-color="#fdf2a3"/><stop offset="0.24794" stop-color="#fdf2a3"/><stop offset="0.25113" stop-color="#fef8d0"/><stop offset="0.29279" stop-color="#fef8d0"/><stop offset="0.29598" stop-color="#fdf2a3"/><stop offset="0.30659" stop-color="#fdf2a3"/><stop offset="0.30978" stop-color="#fffdf2"/><stop offset="0.32499" stop-color="#fffdf2"/><stop offset="0.32818" stop-color="#fffce9"/><stop offset="0.34109" stop-color="#fffce9"/><stop offset="0.34428" stop-color="#fbfafe"/><stop offset="0.35719" stop-color="#fbfafe"/><stop offset="0.36038" stop-color="#eae7f8"/><stop offset="0.36294" stop-color="#eae7f8"/><stop offset="0.36613" stop-color="#fcfbfe"/><stop offset="0.38249" stop-color="#fcfbfe"/><stop offset="0.38568" stop-color="#fffef7"/><stop offset="0.41009" stop-color="#fffef7"/><stop offset="0.41328" stop-color="#fffbe4"/><stop offset="0.42044" stop-color="#fffbe4"/><stop offset="0.42363" stop-color="#f8f6fd"/><stop offset="0.42850" stop-color="#f8f6fd"/><stop offset="0.43168" stop-color="#eae7f8"/><stop offset="0.44115" stop-color="#eae7f8"/><stop offset="0.44433" stop-color="#faeb6e"/><stop offset="0.45495" stop-color="#faeb6e"/><stop offset="0.45813" stop-color="#f6e214"/><stop offset="0.45955" stop-color="#f6e214"/><stop offset="0.46273" stop-color="#eeebfa"/><stop offset="0.46530" stop-color="#eeebfa"/><stop offset="0.46848" stop-color="#ffffff"/><stop offset="0.47680" stop-color="#ffffff"/><stop offset="0.47998" stop-color="#fdf2a3"/><stop offset="0.48370" stop-color="#fdf2a3"/><stop offset="0.48667" stop-color="#ffffff"/><stop offset="0.48920" stop-color="#4f4fac"/><stop offset="0.49194" stop-color="#ffffff"/><stop offset="0.50118" stop-color="#ffffff"/><stop offset="0.50367" stop-color="#e4e0f6"/><stop offset="0.50618" stop-color="#fbee89"/><stop offset="0.51450" stop-color="#fbee89"/><stop offset="0.51768" stop-color="#fffbe4"/><stop offset="0.52301" stop-color="#fffbe4"/><stop offset="0.52619" stop-color="#f9ea61"/><stop offset="0.52761" stop-color="#f9ea61"/><stop offset="0.53079" stop-color="#d7d1f1"/><stop offset="0.53336" stop-color="#d7d1f1"/><stop offset="0.53654" stop-color="#eeebfa"/><stop offset="0.54256" stop-color="#eeebfa"/><stop offset="0.54574" stop-color="#fffefa"/><stop offset="0.55406" stop-color="#fffefa"/><stop offset="0.55724" stop-color="#fffadf"/><stop offset="0.56441" stop-color="#fffadf"/><stop offset="0.56759" stop-color="#877dcb"/><stop offset="0.57016" stop-color="#877dcb"/><stop offset="0.57334" stop-color="#aea5e1"/><stop offset="0.58741" stop-color="#aea5e1"/><stop offset="0.59060" stop-color="#fffefa"/><stop offset="0.61386" stop-color="#fffefa"/><stop offset="0.61705" stop-color="#f8f6fd"/><stop offset="0.65986" stop-color="#f8f6fd"/><stop offset="0.66305" stop-color="#fcfbfe"/><stop offset="0.68286" stop-color="#fcfbfe"/><stop offset="0.68605" stop-color="#fffdf2"/><stop offset="0.69666" stop-color="#fffdf2"/><stop offset="0.69985" stop-color="#fffadf"/><stop offset="0.70310" stop-color="#fffadf"/><stop offset="0.70629" stop-color="#eeebfa"/><stop offset="0.72886" stop-color="#eeebfa"/><stop offset="0.73205" stop-color="#dcd7f3"/><stop offset="0.74496" stop-color="#dcd7f3"/><stop offset="0.74815" stop-color="#d7d1f1"/><stop offset="0.75784" stop-color="#d7d1f1"/><stop offset="0.76101" stop-color="#f2effb"/><stop offset="0.76472" stop-color="#f2effb"/><stop offset="0.76791" stop-color="#dcd7f3"/><stop offset="0.78082" stop-color="#dcd7f3"/><stop offset="0.78401" stop-color="#cfc9ef"/><stop offset="0.79577" stop-color="#cfc9ef"/><stop offset="0.79896" stop-color="#eeebfa"/><stop offset="0.80267" stop-color="#eeebfa"/><stop offset="0.80586" stop-color="#aea5e1"/><stop offset="0.80727" stop-color="#aea5e1"/><stop offset="0.81046" stop-color="#645db7"/><stop offset="0.81187" stop-color="#645db7"/><stop offset="0.81506" stop-color="#aea5e1"/><stop offset="0.82107" stop-color="#aea5e1"/><stop offset="0.82426" stop-color="#fbed7b"/><stop offset="0.83257" stop-color="#fbed7b"/><stop offset="0.83576" stop-color="#f8e746"/><stop offset="0.83878" stop-color="#f8e746"/><stop offset="0.84197" stop-color="#fef8d0"/><stop offset="0.85442" stop-color="#fef8d0"/><stop offset="0.85761" stop-color="#ffffff"/><stop offset="0.86822" stop-color="#ffffff"/><stop offset="0.87141" stop-color="#f6f4fc"/><stop offset="0.87213" stop-color="#f6f4fc"/><stop offset="0.87532" stop-color="#fef8d0"/><stop offset="0.89008" stop-color="#fef8d0"/><stop offset="0.89326" stop-color="#fffce9"/><stop offset="0.90273" stop-color="#fffce9"/><stop offset="0.90591" stop-color="#fffffc"/><stop offset="0.92113" stop-color="#fffffc"/><stop offset="0.92431" stop-color="#fffce9"/><stop offset="0.93033" stop-color="#fffce9"/><stop offset="0.93351" stop-color="#fef8d0"/><stop offset="0.94413" stop-color="#fef8d0"/><stop offset="0.94731" stop-color="#fffce9"/><stop offset="0.96943" stop-color="#fffce9"/><stop offset="0.97261" stop-color="#fff9d7"/><stop offset="0.97633" stop-color="#fff9d7"/><stop offset="0.97951" stop-color="#fdf4b1"/><stop offset="0.98438" stop-color="#fdf4b1"/><stop offset="0.98756" stop-color="#faeb6e"/><stop offset="0.99013" stop-color="#faeb6e"/><stop offset="0.99331" stop-color="#fcf096"/><stop offset="1.00000" stop-color="#fcf096"/></linearGradient>
<rect x="1097.50" y="835.98" width="53.10" height="564.94" fill="url(#hg7)"/>
<linearGradient id="hg8" gradientUnits="userSpaceOnUse" x1="0" y1="835.98" x2="0" y2="1400.91"><stop offset="0.00000" stop-color="#f5e20a"/><stop offset="0.00738" stop-color="#f5e20a"/><stop offset="0.01012" stop-color="#f8e746"/><stop offset="0.01286" stop-color="#f5e20a"/><stop offset="0.01589" stop-color="#f5e20a"/><stop offset="0.01907" stop-color="#fdf2a3"/><stop offset="0.02003" stop-color="#fdf2a3"/><stop offset="0.02321" stop-color="#f9ea61"/><stop offset="0.02923" stop-color="#f9ea61"/><stop offset="0.03241" stop-color="#faeb6e"/><stop offset="0.03613" stop-color="#faeb6e"/><stop offset="0.03931" stop-color="#f7e639"/><stop offset="0.05453" stop-color="#f7e639"/><stop offset="0.05771" stop-color="#f5e100"/><stop offset="0.06327" stop-color="#f5e100"/><stop offset="0.06645" stop-color="#f9ea61"/><stop offset="0.07523" stop-color="#f9ea61"/><stop offset="0.07841" stop-color="#fbed7b"/><stop offset="0.07868" stop-color="#fbed7b"/><stop offset="0.08186" stop-color="#faeb6e"/><stop offset="0.09938" stop-color="#faeb6e"/><stop offset="0.10256" stop-color="#f6e31e"/><stop offset="0.10858" stop-color="#f6e31e"/><stop offset="0.11176" stop-color="#f8e746"/><stop offset="0.14653" stop-color="#f8e746"/><stop offset="0.14972" stop-color="#f7e42b"/><stop offset="0.15458" stop-color="#f7e42b"/><stop offset="0.15777" stop-color="#f8e746"/><stop offset="0.18448" stop-color="#f8e746"/><stop offset="0.18767" stop-color="#f5e100"/><stop offset="0.19828" stop-color="#f5e100"/><stop offset="0.20102" stop-color="#f6e214"/><stop offset="0.20377" stop-color="#f5e100"/><stop offset="0.20863" stop-color="#f5e100"/><stop offset="0.21182" stop-color="#fdf2a3"/><stop offset="0.24794" stop-color="#fdf2a3"/><stop offset="0.25113" stop-color="#fff9d7"/><stop offset="0.26519" stop-color="#fff9d7"/><stop offset="0.26838" stop-color="#faeb6e"/><stop offset="0.29394" stop-color="#faeb6e"/><stop offset="0.29713" stop-color="#fcf096"/><stop offset="0.36409" stop-color="#fcf096"/><stop offset="0.36728" stop-color="#f9ea61"/><stop offset="0.39629" stop-color="#f9ea61"/><stop offset="0.39948" stop-color="#fbee89"/><stop offset="0.43080" stop-color="#fbee89"/><stop offset="0.43398" stop-color="#f9ea61"/><stop offset="0.44184" stop-color="#f9ea61"/><stop offset="0.44481" stop-color="#fffdf2"/><stop offset="0.44778" stop-color="#fef8d0"/><stop offset="0.45840" stop-color="#fef8d0"/><stop offset="0.46158" stop-color="#fffadf"/><stop offset="0.47450" stop-color="#fffadf"/><stop offset="0.47768" stop-color="#bcb4e8"/><stop offset="0.47795" stop-color="#bcb4e8"/><stop offset="0.48113" stop-color="#fbfafe"/><stop offset="0.48370" stop-color="#fbfafe"/><stop offset="0.48688" stop-color="#f8e746"/><stop offset="0.48945" stop-color="#f8e746"/><stop offset="0.49263" stop-color="#f5e100"/><stop offset="0.50118" stop-color="#f5e100"/><stop offset="0.50367" stop-color="#f9ea61"/><stop offset="0.50618" stop-color="#4a4caa"/><stop offset="0.56441" stop-color="#4a4caa"/><stop offset="0.56759" stop-color="#b6aee5"/><stop offset="0.57936" stop-color="#b6aee5"/><stop offset="0.58255" stop-color="#eae7f8"/><stop offset="0.58741" stop-color="#eae7f8"/><stop offset="0.59060" stop-color="#9086d1"/><stop offset="0.60466" stop-color="#9086d1"/><stop offset="0.60785" stop-color="#7e74c6"/><stop offset="0.61386" stop-color="#7e74c6"/><stop offset="0.61705" stop-color="#877dcb"/><stop offset="0.62306" stop-color="#877dcb"/><stop offset="0.62625" stop-color="#9a91d6"/><stop offset="0.65986" stop-color="#9a91d6"/><stop offset="0.66305" stop-color="#b6aee5"/><stop offset="0.67596" stop-color="#b6aee5"/><stop offset="0.67915" stop-color="#a097d9"/><stop offset="0.70310" stop-color="#a097d9"/><stop offset="0.70629" stop-color="#b6aee5"/><stop offset="0.72541" stop-color="#b6aee5"/><stop offset="0.72860" stop-color="#e4e0f6"/><stop offset="0.73346" stop-color="#e4e0f6"/><stop offset="0.73665" stop-color="#bcb4e8"/><stop offset="0.74151" stop-color="#bcb4e8"/><stop offset="0.74470" stop-color="#e4e0f6"/><stop offset="0.74611" stop-color="#e4e0f6"/><stop offset="0.74930" stop-color="#8278c9"/><stop offset="0.75784" stop-color="#8278c9"/><stop offset="0.76101" stop-color="#7066be"/><stop offset="0.76472" stop-color="#7066be"/><stop offset="0.76791" stop-color="#a097d9"/><stop offset="0.78082" stop-color="#a097d9"/><stop offset="0.78401" stop-color="#9288d2"/><stop offset="0.78818" stop-color="#9288d2"/><stop offset="0.79137" stop-color="#fcfbfe"/><stop offset="0.80267" stop-color="#fcfbfe"/><stop offset="0.80586" stop-color="#fdf4b1"/><stop offset="0.80658" stop-color="#fdf4b1"/><stop offset="0.80977" stop-color="#aea5e1"/><stop offset="0.81302" stop-color="#aea5e1"/><stop offset="0.81621" stop-color="#7066be"/><stop offset="0.82107" stop-color="#7066be"/><stop offset="0.82426" stop-color="#d1cbef"/><stop offset="0.82912" stop-color="#d1cbef"/><stop offset="0.83231" stop-color="#a097d9"/><stop offset="0.83602" stop-color="#a097d9"/><stop offset="0.83900" stop-color="#6a62ba"/><stop offset="0.84197" stop-color="#eeebfa"/><stop offset="0.84522" stop-color="#eeebfa"/><stop offset="0.84841" stop-color="#d7d1f1"/><stop offset="0.86822" stop-color="#d7d1f1"/><stop offset="0.87141" stop-color="#eeebfa"/><stop offset="0.87213" stop-color="#eeebfa"/><stop offset="0.87532" stop-color="#877dcb"/><stop offset="0.88203" stop-color="#877dcb"/><stop offset="0.88521" stop-color="#aea5e1"/><stop offset="0.89813" stop-color="#aea5e1"/><stop offset="0.90131" stop-color="#c9c3ed"/><stop offset="0.90848" stop-color="#c9c3ed"/><stop offset="0.91166" stop-color="#6a62ba"/><stop offset="0.92343" stop-color="#6a62ba"/><stop offset="0.92661" stop-color="#5854b0"/><stop offset="0.94413" stop-color="#5854b0"/><stop offset="0.94731" stop-color="#645db7"/><stop offset="0.96023" stop-color="#645db7"/><stop offset="0.96341" stop-color="#7b71c5"/><stop offset="0.97518" stop-color="#7b71c5"/><stop offset="0.97836" stop-color="#5452ae"/><stop offset="0.99013" stop-color="#5452ae"/><stop offset="0.99331" stop-color="#645db7"/><stop offset="1.00000" stop-color="#645db7"/></linearGradient>
<rect x="1150.20" y="835.98" width="53.00" height="564.94" fill="url(#hg8)"/>
<path d="M906.4,961.0L906.4,1114.4M906.4,961.0L924.4,961.0M924.4,855.7L924.4,1066.4M924.4,855.7L939.7,855.7M939.7,845.9L939.7,865.6M939.7,845.9L952.4,845.9M952.4,842.1L952.4,850.1M952.4,842.1L956.6,842.1M952.4,850.1L959.8,850.1M956.6,839.5L956.6,844.0M939.7,865.6L954.7,865.6M954.7,860.5L954.7,870.5M954.7,860.5L959.8,860.5M954.7,870.5L961.1,870.5M953.4,914.2L953.4,1019.6M953.4,914.2L956.6,914.2M956.6,891.3L956.6,937.5M956.6,891.3L959.8,891.3M956.6,937.5L959.8,937.5M948.6,966.4L948.6,1092.5M948.6,966.4L953.4,966.4M959.8,891.3L959.8,901.2M959.8,926.7L959.8,947.0M958.8,976.3L958.8,1000.5" stroke="#2b2b2b" stroke-width="0.85" fill="none" stroke-linecap="square"/>
<path d="M905.7,1037.8L905.7,1228.4M924.4,1066.4L941.3,1066.4M941.3,1029.3L941.3,1103.3M941.3,1029.3L948.6,1029.3M948.6,1092.5L958.5,1092.5M941.3,1103.3L956.6,1103.3M956.6,1101.4L956.6,1105.2M956.6,1101.4L960.4,1101.4M956.6,1105.2L960.4,1105.2M957.9,1020.0L957.9,1050.3M957.9,1050.3L960.4,1050.3M958.5,1089.3L958.5,1095.7M958.5,1089.3L961.1,1089.3M958.5,1095.7L961.1,1095.7M906.4,1114.4L932.8,1114.4M932.8,1111.3L932.8,1118.2M932.8,1111.3L941.3,1111.3M941.3,1109.7L941.3,1112.2M941.3,1109.7L959.8,1109.7M941.3,1112.2L959.8,1112.2M932.8,1118.2L956.6,1118.2M956.6,1116.9L956.6,1119.5M956.6,1116.9L961.1,1116.9M956.6,1119.5L961.1,1119.5M914.6,1145.3L914.6,1311.0M914.6,1145.3L927.0,1145.3M927.0,1136.0L927.0,1155.5M927.0,1136.0L946.4,1136.0M946.4,1131.3L946.4,1140.9M946.4,1131.3L952.8,1131.3M952.8,1128.4L952.8,1133.9M952.8,1128.4L956.6,1128.4M956.6,1125.6L956.6,1130.7M952.8,1133.9L959.8,1133.9M946.4,1140.9L954.7,1140.9M954.7,1137.0L954.7,1145.3M954.7,1137.0L959.2,1137.0M954.7,1145.3L959.2,1145.3M959.2,1142.1L959.2,1149.1M927.0,1155.5L961.1,1155.5M955.6,1163.8L955.6,1251.8M955.6,1163.8L958.8,1163.8M958.8,1160.6L958.8,1166.9M958.8,1160.6L961.1,1160.6M958.8,1166.9L961.1,1166.9M952.4,1207.7L952.4,1289.5M952.4,1207.7L955.6,1207.7" stroke="#2b2b2b" stroke-width="0.85" fill="none" stroke-linecap="square"/>
<path d="M906.0,1228.4L914.6,1228.4M914.6,1311.4L933.7,1311.4M933.7,1272.3L933.7,1350.3M933.7,1272.3L944.5,1272.3M944.5,1248.2L944.5,1296.5M944.5,1248.2L952.4,1248.2M952.4,1289.5L959.8,1289.5M955.6,1252.0L959.2,1252.0M959.2,1252.0L959.2,1274.9M944.5,1296.5L957.3,1296.5M957.3,1294.0L957.3,1298.4M957.3,1294.0L961.1,1294.0M957.3,1298.4L961.1,1298.4M933.7,1350.3L951.8,1350.3M951.8,1319.2L951.8,1381.8M951.8,1319.2L953.4,1319.2M953.4,1307.3L953.4,1330.2M953.4,1307.3L958.5,1307.3M953.4,1330.2L958.5,1330.2M958.5,1321.3L958.5,1340.4M951.8,1381.8L956.6,1381.8M956.6,1367.5L956.6,1395.8M956.6,1367.5L959.8,1367.5M956.6,1395.8L959.8,1395.8M959.8,1358.9L959.8,1375.4" stroke="#2b2b2b" stroke-width="0.85" fill="none" stroke-linecap="square"/>
<path d="M961.9,836 V1400" stroke="#1a1a1a" stroke-width="1.0" fill="none"/>
<path d="M961.6,838.0V842.0H960.6V844.5H959.7V846.0H960.4V848.0H961.6V850.0H961.6V852.5H960.4V854.5H960.4V858.5H961.6V862.5H961.0V864.0H961.0V867.0H960.6V869.0H960.4V871.0H961.6V873.0H959.7V877.0H960.4V879.0H961.0V880.5H961.6V882.5H961.0V884.5H961.0V887.0H960.6V889.0H959.7V891.0H961.0V893.0H960.4V895.5H961.6V898.0H960.4V900.0H961.0V902.5H961.6V905.0H960.6V909.0H959.7V910.5H959.7V913.0H961.6V915.5H960.6V918.0H960.4V920.5H961.0V923.5H960.4V925.5H961.6V928.0H961.6V930.5H960.4V932.0H959.7V935.0H960.6V938.0H959.7V939.5H960.4V941.0H961.0V945.0H961.0V946.5H961.0V949.5H960.6V953.5H960.6V957.5H960.6V960.5H961.6V964.5H960.6V967.0H961.6V970.0H961.6V972.0H960.6V976.0H959.7V978.5H961.0V981.0H960.6V985.0H961.6V987.5H960.6V990.0H961.0V991.5H961.0V994.0H960.4V996.0H961.6V997.5H959.7V1001.5H960.4V1003.0H961.0V1007.0H960.6V1009.5H960.4V1012.5H961.0V1014.0H961.6V1017.0H960.6V1019.0H961.0V1023.0H961.0V1026.0H961.6V1028.0H960.4V1030.5H961.0V1032.0H960.4V1034.5H961.0V1037.5H959.7V1039.5H959.7V1042.5H960.4V1045.0H960.4V1047.5H960.6V1050.5H960.4V1052.5H961.6V1055.5H959.7V1057.5H960.4V1060.0H961.0V1061.5H960.4V1064.0H959.7V1068.0H959.7V1070.5H961.6V1073.0H959.7V1074.5H960.6V1077.0H959.7V1079.5H960.4V1082.0H960.6V1084.5H961.0V1088.5H961.6V1091.5H959.7V1094.0H960.6V1096.5H960.4V1099.0H959.7V1101.5H960.6V1104.0H960.6V1107.0H960.6V1109.0H960.4V1111.5H960.6V1115.5H961.0V1119.5H961.0V1121.5H960.6V1124.5H960.6V1126.0H960.4V1128.0H959.7V1132.0H959.7V1135.0H960.6V1139.0H959.7V1141.5H961.6V1143.5H961.0V1147.5H960.4V1151.5H961.0V1153.5H961.0V1155.0H960.4V1157.0H961.0V1158.5H961.0V1160.0H960.6V1162.0H960.4V1164.0H959.7V1165.5H960.4V1168.5H960.6V1171.5H959.7V1173.0H959.7V1175.0H961.0V1177.5H961.6V1180.0H960.4V1182.5H960.4V1184.0H959.7V1186.5H961.6V1190.5H959.7V1193.0H961.6V1195.5H959.7V1199.5H960.6V1203.5H960.6V1206.0H961.0V1209.0H960.4V1213.0H959.7V1215.5H960.4V1217.5H961.0V1221.5H960.4V1225.5H960.4V1227.5H961.0V1231.5H961.6V1234.0H961.6V1237.0H961.6V1239.5H959.7V1243.5H959.7V1245.5H960.6V1249.5H960.4V1252.5H960.4V1254.5H960.4V1257.0H960.4V1260.0H960.4V1262.0H959.7V1266.0H960.6V1268.5H960.4V1271.0H960.4V1272.5H960.6V1275.0H960.4V1277.5H961.0V1280.5H961.6V1282.0H959.7V1285.0H961.0V1287.5H961.6V1289.5H960.4V1291.0H960.4V1295.0H959.7V1297.5H961.0V1300.5H961.6V1302.5H960.4V1305.0H961.0V1307.5H960.6V1310.5H959.7V1313.5H959.7V1317.5H961.6V1319.0H961.0V1321.5H960.6V1325.5H960.6V1329.5H960.6V1333.5H961.6V1336.5H960.6V1339.0H959.7V1341.0H961.6V1342.5H960.6V1346.5H960.4V1348.0H959.7V1350.0H961.6V1353.0H960.4V1357.0H959.7V1360.0H960.4V1363.0H960.4V1365.0H960.6V1368.0H961.6V1370.5H961.6V1373.5H959.7V1376.0H960.4V1378.5H961.0V1380.5H960.4V1384.5H960.4V1387.0H959.7V1389.0H960.4V1393.0H959.7V1394.5H961.6V1396.5H960.6V1398.0H961.6V1399.0H960.6" stroke="#1a1a1a" stroke-width="0.8" fill="none"/>
<path d="M960.4,880 V1395" stroke="#444" stroke-width="0.9" stroke-dasharray="14,6,30,9,8,5" fill="none"/>
<text transform="translate(990.4 1439.2) scale(1 1.045)" font-size="35.2" text-anchor="end" fill="#111">HFtLFb</text>
<text transform="translate(984.3 1490.6) scale(1 1.045)" font-size="35.0" text-anchor="end" fill="#111">Gv</text>
<text transform="translate(1019.5 1440.24) scale(1 1.0)" font-size="45.5" text-anchor="middle" fill="#111" stroke="#111" stroke-width="0.3">–</text>
<text transform="translate(1072.4 1440.24) scale(1 1.0)" font-size="45.5" text-anchor="middle" fill="#111" stroke="#111" stroke-width="0.3">–</text>
<text transform="translate(1126.7 1442.8) scale(1 1.0)" font-size="41.2" text-anchor="middle" fill="#111" stroke="#111" stroke-width="1.0">+</text>
<text transform="translate(1181.8 1442.8) scale(1 1.0)" font-size="41.2" text-anchor="middle" fill="#111" stroke="#111" stroke-width="1.0">+</text>
<text transform="translate(1019.5 1494.54) scale(1 1.0)" font-size="45.5" text-anchor="middle" fill="#111" stroke="#111" stroke-width="0.3">–</text>
<text transform="translate(1074.4 1497.1) scale(1 1.0)" font-size="41.2" text-anchor="middle" fill="#111" stroke="#111" stroke-width="1.0">+</text>
<text transform="translate(1126.7 1494.54) scale(1 1.0)" font-size="45.5" text-anchor="middle" fill="#111" stroke="#111" stroke-width="0.3">–</text>
<text transform="translate(1181.8 1497.1) scale(1 1.0)" font-size="41.2" text-anchor="middle" fill="#111" stroke="#111" stroke-width="1.0">+</text>
<text transform="translate(1333.6 804.6) scale(1 1.035)" font-size="48.0" fill="#111">F</text>
<path d="M1425.4,889.4 V1325.0 H1715.8" stroke="#111" stroke-width="1.5" fill="none"/>
<path d="M1408.5,1325.00 H1425.4" stroke="#111" stroke-width="1.5"/>
<path d="M1416.8,1281.44 H1425.4" stroke="#111" stroke-width="1.5"/>
<path d="M1416.8,1237.88 H1425.4" stroke="#111" stroke-width="1.5"/>
<path d="M1416.8,1194.32 H1425.4" stroke="#111" stroke-width="1.5"/>
<path d="M1416.8,1150.76 H1425.4" stroke="#111" stroke-width="1.5"/>
<path d="M1408.5,1107.20 H1425.4" stroke="#111" stroke-width="1.5"/>
<path d="M1416.8,1063.64 H1425.4" stroke="#111" stroke-width="1.5"/>
<path d="M1416.8,1020.08 H1425.4" stroke="#111" stroke-width="1.5"/>
<path d="M1416.8,976.52 H1425.4" stroke="#111" stroke-width="1.5"/>
<path d="M1416.8,932.96 H1425.4" stroke="#111" stroke-width="1.5"/>
<path d="M1408.5,889.40 H1425.4" stroke="#111" stroke-width="1.5"/>
<path d="M1425.40,1325.0 V1341.6" stroke="#111" stroke-width="1.5"/>
<text transform="translate(1425.40 1371.6) scale(1 1.045)" font-size="32.5" text-anchor="middle" fill="#111">0</text>
<path d="M1466.89,1325.0 V1341.6" stroke="#111" stroke-width="1.5"/>
<text transform="translate(1466.89 1371.6) scale(1 1.045)" font-size="32.5" text-anchor="middle" fill="#111">1</text>
<path d="M1508.37,1325.0 V1341.6" stroke="#111" stroke-width="1.5"/>
<text transform="translate(1508.37 1371.6) scale(1 1.045)" font-size="32.5" text-anchor="middle" fill="#111">2</text>
<path d="M1549.86,1325.0 V1341.6" stroke="#111" stroke-width="1.5"/>
<text transform="translate(1549.86 1371.6) scale(1 1.045)" font-size="32.5" text-anchor="middle" fill="#111">3</text>
<path d="M1591.34,1325.0 V1341.6" stroke="#111" stroke-width="1.5"/>
<text transform="translate(1591.34 1371.6) scale(1 1.045)" font-size="32.5" text-anchor="middle" fill="#111">4</text>
<path d="M1632.83,1325.0 V1341.6" stroke="#111" stroke-width="1.5"/>
<text transform="translate(1632.83 1371.6) scale(1 1.045)" font-size="32.5" text-anchor="middle" fill="#111">5</text>
<path d="M1674.31,1325.0 V1341.6" stroke="#111" stroke-width="1.5"/>
<text transform="translate(1674.31 1371.6) scale(1 1.045)" font-size="32.5" text-anchor="middle" fill="#111">6</text>
<path d="M1715.80,1325.0 V1341.6" stroke="#111" stroke-width="1.5"/>
<text transform="translate(1715.80 1371.6) scale(1 1.045)" font-size="32.5" text-anchor="middle" fill="#111">7</text>
<text transform="translate(1407.7 1336.90) scale(1 1.045)" font-size="32.5" text-anchor="end" fill="#111">0</text>
<text transform="translate(1407.7 1119.10) scale(1 1.045)" font-size="32.5" text-anchor="end" fill="#111">50</text>
<text transform="translate(1407.7 901.30) scale(1 1.045)" font-size="32.5" text-anchor="end" fill="#111">100</text>
<text transform="translate(1571 1427.8) scale(1 1.045)" font-size="35.15" text-anchor="middle" fill="#111">Postnatal Days</text>
<text transform="translate(1359.3 1107.2) rotate(-90) scale(1 1.045)" font-size="35.0" text-anchor="middle" fill="#111">Percent survival</text>
<path d="M1466.89,889.4 V968.9 H1508.37 V1087.6 H1715.8" stroke="#0a0a0a" stroke-width="4.6" fill="none" stroke-linejoin="miter"/>
<path d="M1446.14,889.4 H1466.89" stroke="#0a0a0a" stroke-width="4.6" fill="none" stroke-dasharray="9,4,1,4"/>
<path d="M1481.8,976.3 H1715.8" stroke="#0a0a0a" stroke-width="4.2" fill="none" stroke-linecap="round" stroke-dasharray="19.2,14.15,0.1,14.15"/>
<path d="M1425.4,889.4 H1715.8" stroke="#dcdcdc" stroke-width="4.4" fill="none"/>
<path d="M1446.14,889.4 H1715.8" stroke="#a3a19e" stroke-width="4.4" fill="none" stroke-dasharray="9.5,3.8,9.5,24.8" stroke-dashoffset="-1.6" opacity="0.95"/>
<path d="M1447.6,889.4 H1457.4 M1461,889.4 H1466.89" stroke="#0a0a0a" stroke-width="4.6" fill="none"/>
<circle cx="1466.89" cy="968.9" r="3.9" fill="#fff" stroke="#0a0a0a" stroke-width="1.4"/>
<circle cx="1466.89" cy="976.3" r="3.9" fill="#fff" stroke="#0a0a0a" stroke-width="1.4"/>
<circle cx="1508.37" cy="1087.6" r="3.9" fill="#fff" stroke="#0a0a0a" stroke-width="1.4"/>
<circle cx="1715.80" cy="889.4" r="3.9" fill="#fff" stroke="#0a0a0a" stroke-width="1.6"/>
<circle cx="1715.80" cy="976.3" r="3.9" fill="#fff" stroke="#0a0a0a" stroke-width="1.6"/>
<circle cx="1715.8" cy="1087.6" r="4.3" fill="#fff" stroke="#0a0a0a" stroke-width="3.6"/>
<path d="M1444,1189.9 H1467" stroke="#aeada9" stroke-width="6" stroke-linecap="round"/><circle cx="1479.3" cy="1189.9" r="3.1" fill="#aeada9"/>
<path d="M1444,1225.4 H1467" stroke="#0a0a0a" stroke-width="6" stroke-linecap="round"/><circle cx="1479.3" cy="1225.4" r="3.1" fill="#0a0a0a"/>
<path d="M1444,1263.8 H1492.5" stroke="#aeada9" stroke-width="6" stroke-linecap="round"/>
<path d="M1443,1296.5 H1491.5" stroke="#0a0a0a" stroke-width="6.4" stroke-linecap="round"/>
<text transform="translate(1517.2 1201.8) scale(1 1.045)" font-size="35.4" fill="#111">LFt-HFb</text>
<text transform="translate(1517.2 1237.5) scale(1 1.045)" font-size="35.4" fill="#111">HFt-LFb</text>
<text transform="translate(1517.2 1276.4) scale(1 1.045)" font-size="35.4" fill="#111">LFt-HFb+Gv</text>
<text transform="translate(1517.2 1307.6) scale(1 1.045)" font-size="34.8" fill="#111">HFt-LFb+Gv</text>
</svg>
</body></html>
